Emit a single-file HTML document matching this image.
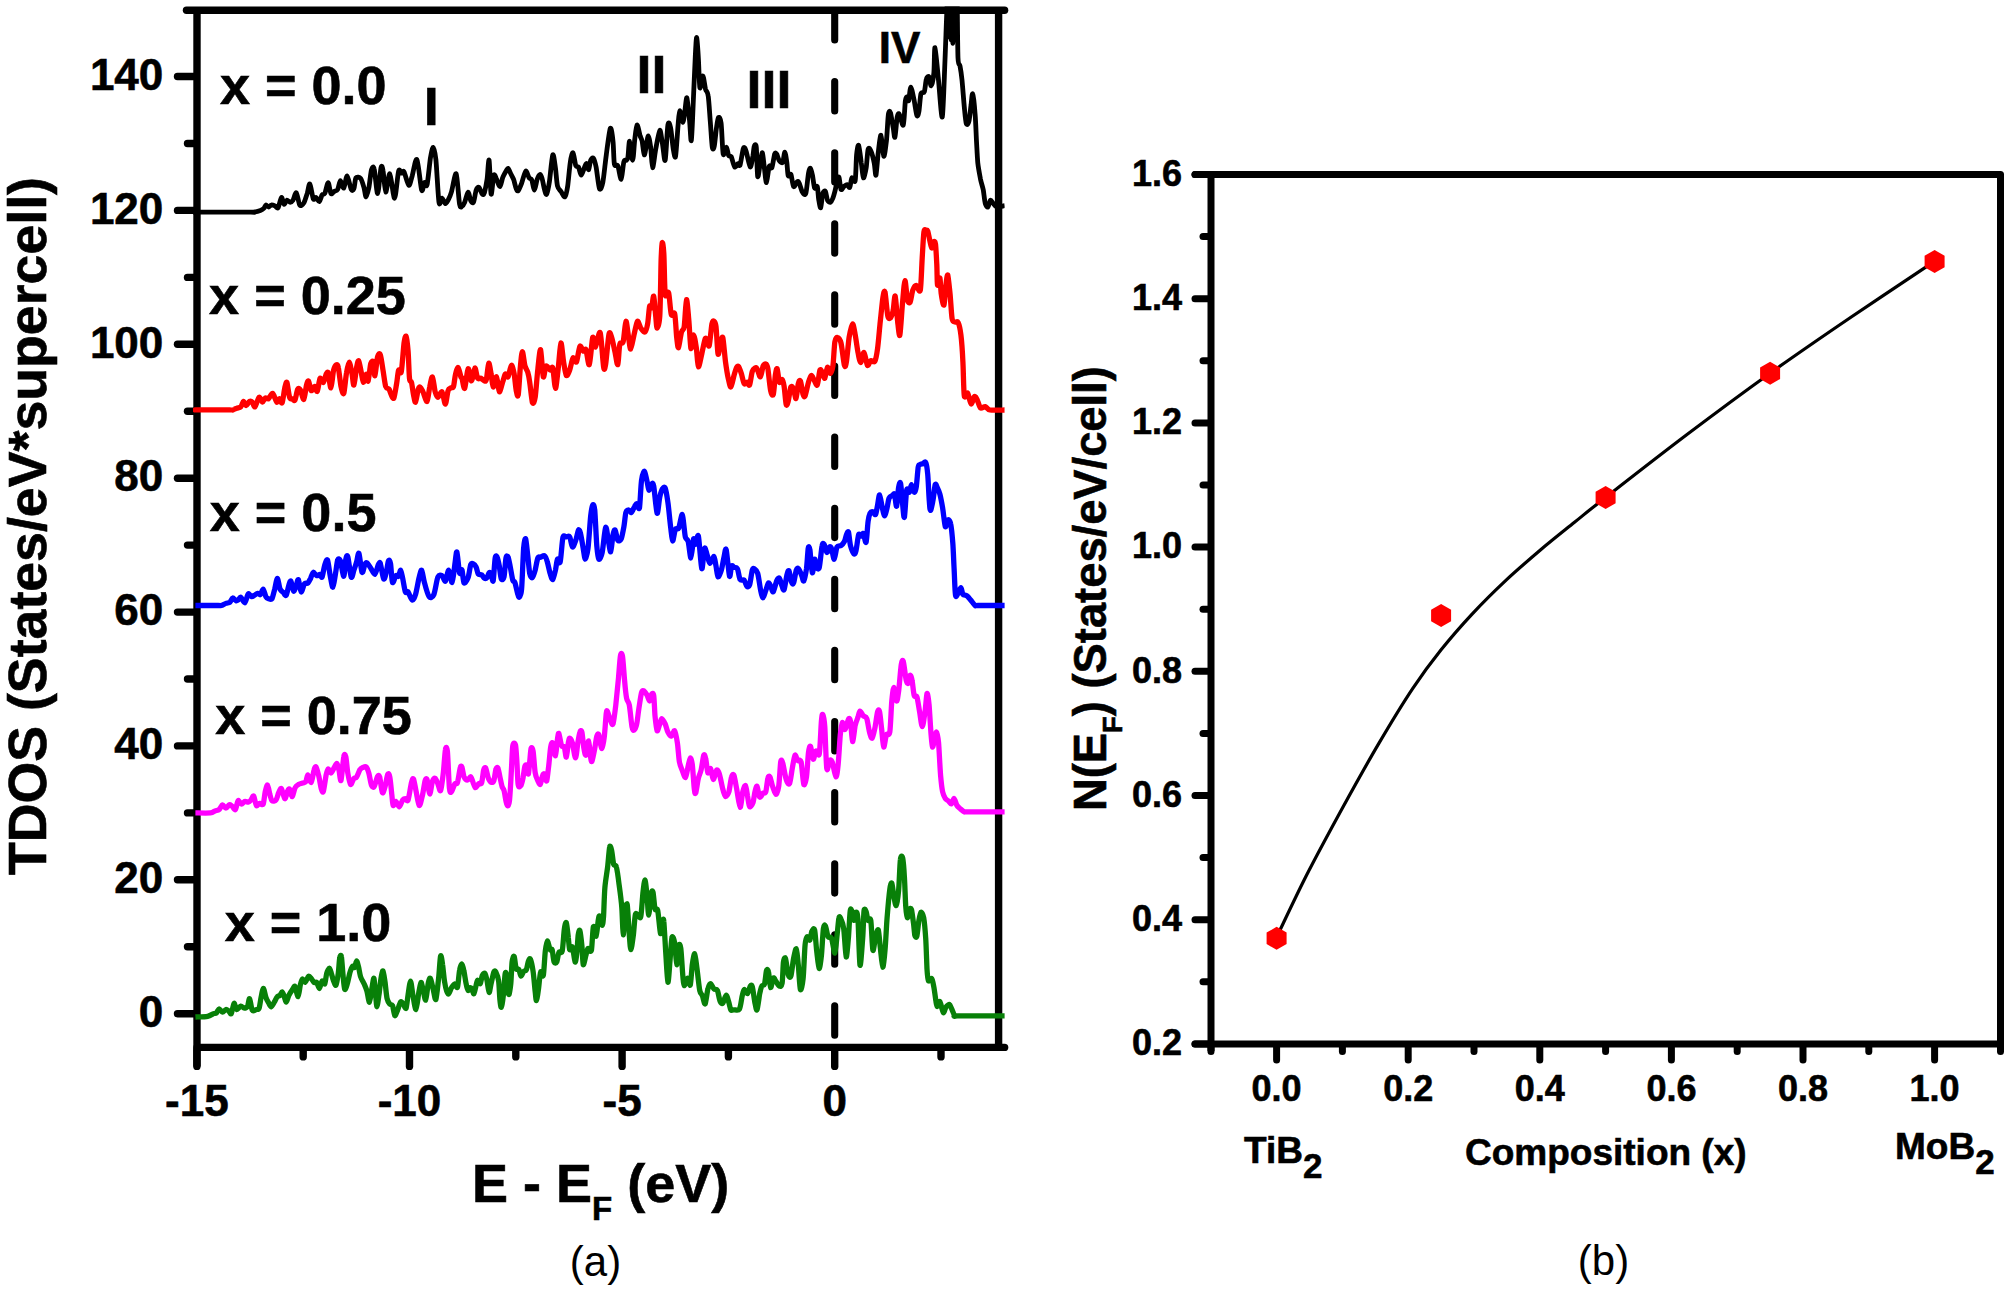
<!DOCTYPE html><html><head><meta charset="utf-8"><title>TDOS and N(EF) figure</title>
<style>html,body{margin:0;padding:0;background:#fff}body{width:2008px;height:1293px;overflow:hidden}svg{display:block}text{font-family:"Liberation Sans",Arial,sans-serif;fill:#000}.b{font-weight:bold;stroke:#000;stroke-width:0.6px}</style></head><body>
<svg width="2008" height="1293" viewBox="0 0 2008 1293">
<rect width="2008" height="1293" fill="#fff"/>
<g stroke="#000" stroke-width="7.4" stroke-linecap="round" fill="none">
<path d="M186.5 10.2 H1004.6"/>
<path d="M197.0 1047.4 H1004.6"/>
<path d="M197.0 10.2 V1066.4" stroke-linecap="butt"/>
<path d="M998.6 10.2 V1047.4" stroke-linecap="butt"/>
<path d="M177.5 1013.7 H194.0"/>
<path d="M187.5 946.8 H194.0"/>
<path d="M177.5 879.8 H194.0"/>
<path d="M187.5 812.9 H194.0"/>
<path d="M177.5 745.9 H194.0"/>
<path d="M187.5 679.0 H194.0"/>
<path d="M177.5 612.1 H194.0"/>
<path d="M187.5 545.1 H194.0"/>
<path d="M177.5 478.2 H194.0"/>
<path d="M187.5 411.2 H194.0"/>
<path d="M177.5 344.3 H194.0"/>
<path d="M187.5 277.4 H194.0"/>
<path d="M177.5 210.4 H194.0"/>
<path d="M187.5 143.5 H194.0"/>
<path d="M177.5 76.5 H194.0"/>
<path d="M196.9 1050.4 V1066.4"/>
<path d="M303.2 1050.4 V1056.9"/>
<path d="M409.5 1050.4 V1066.4"/>
<path d="M515.8 1050.4 V1056.9"/>
<path d="M622.1 1050.4 V1066.4"/>
<path d="M728.4 1050.4 V1056.9"/>
<path d="M834.7 1050.4 V1066.4"/>
<path d="M941.0 1050.4 V1056.9"/>
</g>
<path d="M834.7 10.5 V1047.4" stroke="#000" stroke-width="7.1" stroke-linecap="round" stroke-dasharray="29.4 41.7" fill="none"/>
<text class="b" x="163.3" y="1026.9" font-size="44" text-anchor="end">0</text>
<text class="b" x="163.3" y="893.0" font-size="44" text-anchor="end">20</text>
<text class="b" x="163.3" y="759.1" font-size="44" text-anchor="end">40</text>
<text class="b" x="163.3" y="625.3" font-size="44" text-anchor="end">60</text>
<text class="b" x="163.3" y="491.4" font-size="44" text-anchor="end">80</text>
<text class="b" x="163.3" y="357.5" font-size="44" text-anchor="end">100</text>
<text class="b" x="163.3" y="223.6" font-size="44" text-anchor="end">120</text>
<text class="b" x="163.3" y="89.7" font-size="44" text-anchor="end">140</text>
<text class="b" x="196.9" y="1115.5" font-size="44" text-anchor="middle">-15</text>
<text class="b" x="409.5" y="1115.5" font-size="44" text-anchor="middle">-10</text>
<text class="b" x="622.1" y="1115.5" font-size="44" text-anchor="middle">-5</text>
<text class="b" x="834.7" y="1115.5" font-size="44" text-anchor="middle">0</text>
<text class="b" transform="translate(45.5,875) rotate(-90) scale(0.985,1)" font-size="54.5">TDOS (States/eV*supercell)</text>
<text class="b" x="472" y="1202" font-size="54">E - E<tspan font-size="33" dy="18">F</tspan><tspan dy="-18"> (eV)</tspan></text>
<text x="595.5" y="1276" font-size="42" text-anchor="middle">(a)</text>
<text class="b" x="219.9" y="103.6" font-size="54">x = 0.0</text>
<text class="b" x="209.1" y="314.0" font-size="54">x = 0.25</text>
<text class="b" x="209.8" y="531.0" font-size="54">x = 0.5</text>
<text class="b" x="215.2" y="734.3" font-size="54">x = 0.75</text>
<text class="b" x="224.7" y="941.1" font-size="54">x = 1.0</text>
<text class="b" x="423.7" y="125.2" font-size="54">I</text>
<text class="b" x="636.6" y="92.6" font-size="54">II</text>
<text class="b" x="746.6" y="108.1" font-size="54">III</text>
<text class="b" x="878.8" y="62.6" font-size="44">IV</text>
<clipPath id="cl"><rect x="193.0" y="6.5" width="811.6" height="1037.2"/></clipPath>
<g fill="none" stroke-linejoin="round" stroke-linecap="butt" clip-path="url(#cl)">
<path d="M195.4 1017.0C197.2 1016.9 205.0 1016.8 207.6 1016.3C210.2 1015.8 212.4 1014.1 213.7 1013.6C215.0 1013.1 215.6 1013.6 216.4 1012.9C217.2 1012.2 218.3 1008.9 219.1 1008.9C220.0 1008.8 221.5 1012.1 222.5 1012.2C223.5 1012.3 225.0 1009.7 225.9 1009.5C226.8 1009.3 227.8 1010.3 228.6 1010.9C229.4 1011.5 230.5 1014.7 231.3 1013.6C232.1 1012.5 233.3 1004.0 234.0 1003.4C234.8 1002.9 235.8 1009.1 236.7 1009.5C237.7 1009.9 239.7 1006.3 240.8 1006.1C241.9 1005.9 243.2 1008.2 244.2 1008.2C245.2 1008.2 246.8 1007.5 247.6 1006.1C248.3 1004.8 248.9 998.1 249.6 998.7C250.3 999.3 251.3 1008.7 252.3 1010.2C253.3 1011.8 255.4 1009.8 256.4 1009.5C257.3 1009.2 258.4 1009.9 259.1 1008.2C259.8 1006.4 260.5 1000.1 261.1 997.3C261.7 994.5 262.7 988.5 263.4 988.5C264.1 988.5 265.1 995.3 265.9 997.3C266.6 999.4 267.8 1001.4 268.6 1002.8C269.3 1004.1 270.4 1007.0 271.3 1006.8C272.1 1006.6 273.8 1002.9 274.7 1001.4C275.5 999.9 276.6 997.5 277.4 996.7C278.1 995.8 279.4 996.0 280.1 995.3C280.8 994.6 281.5 991.8 282.1 991.9C282.7 992.0 283.6 994.5 284.1 996.0C284.7 997.4 285.5 1002.2 286.2 1002.1C286.9 1002.0 288.0 997.0 288.9 995.3C289.8 993.6 291.4 991.1 292.3 989.9C293.1 988.6 294.2 985.5 295.0 986.5C295.8 987.5 297.3 996.9 298.1 996.7C298.9 996.4 299.8 987.0 300.4 984.5C301.0 982.0 301.8 979.3 302.4 979.0C303.1 978.8 304.3 982.8 305.1 982.4C306.0 982.0 307.7 976.9 308.5 976.3C309.4 975.8 310.5 977.5 311.2 978.4C312.0 979.2 313.2 981.9 314.0 982.4C314.7 983.0 315.9 981.6 316.7 982.4C317.4 983.3 318.6 988.7 319.4 988.5C320.1 988.3 321.3 981.8 322.1 981.1C322.9 980.4 324.1 985.0 324.8 983.8C325.5 982.6 326.1 975.2 326.8 973.0C327.5 970.7 328.9 968.0 329.5 968.2C330.2 968.4 331.0 972.5 331.6 974.3C332.1 976.1 333.0 979.5 333.6 981.1C334.2 982.6 335.4 986.3 336.0 985.1C336.7 984.0 337.8 976.8 338.3 973.0C338.9 969.1 339.2 960.4 339.7 958.1C340.1 955.7 341.0 954.2 341.4 956.7C341.9 959.2 342.6 971.0 343.1 975.7C343.5 980.3 344.1 988.0 344.7 989.2C345.3 990.5 346.4 986.8 347.1 984.5C347.9 982.1 349.1 975.6 349.8 973.0C350.6 970.3 351.9 967.0 352.6 966.2C353.2 965.4 354.0 968.3 354.6 967.5C355.2 966.8 356.0 960.8 356.6 960.8C357.2 960.8 358.1 965.2 358.7 967.5C359.2 969.9 359.9 974.7 360.7 977.0C361.5 979.3 363.2 981.9 364.1 983.8C364.9 985.7 366.0 988.0 366.8 990.6C367.6 993.2 368.7 1002.7 369.5 1002.1C370.3 1001.5 371.6 989.9 372.2 986.5C372.8 983.1 373.5 977.2 374.0 978.4C374.4 979.5 375.2 990.6 375.6 994.6C376.0 998.7 376.5 1006.8 376.9 1006.8C377.4 1006.8 378.4 998.7 379.0 994.6C379.6 990.6 380.4 981.8 381.0 978.4C381.6 975.0 382.5 970.3 383.0 970.9C383.6 971.5 384.5 978.5 385.1 982.4C385.6 986.4 386.4 995.6 387.1 998.7C387.8 1001.8 389.0 1003.1 389.8 1004.1C390.6 1005.1 391.8 1003.8 392.5 1005.5C393.2 1007.1 394.1 1014.9 394.8 1015.6C395.5 1016.4 396.4 1012.8 397.3 1010.9C398.1 1008.9 399.8 1003.0 400.6 1002.1C401.5 1001.1 402.6 1003.2 403.4 1004.1C404.1 1005.0 405.4 1009.5 406.1 1008.2C406.7 1006.8 407.5 998.5 408.1 994.6C408.7 990.8 409.9 981.1 410.5 981.1C411.2 981.1 412.1 990.6 412.8 994.6C413.6 998.7 415.1 1009.9 416.0 1009.5C416.8 1009.1 418.2 995.8 418.9 991.9C419.7 988.0 420.4 982.8 421.0 982.4C421.5 982.0 422.3 986.7 423.0 989.2C423.7 991.7 424.9 1001.0 425.7 1000.0C426.5 999.1 427.7 985.5 428.4 982.4C429.1 979.3 429.8 977.4 430.4 978.4C431.1 979.3 432.4 986.2 433.2 989.2C433.9 992.2 435.1 1000.9 435.9 999.4C436.6 997.8 437.9 984.6 438.6 978.4C439.3 972.2 440.0 958.0 440.6 956.0C441.2 954.1 442.1 961.1 442.6 964.8C443.2 968.6 443.9 978.3 444.7 982.4C445.4 986.6 447.1 993.2 448.1 994.0C449.0 994.7 450.5 989.3 451.4 987.9C452.4 986.4 454.0 983.9 454.8 983.8C455.7 983.7 456.9 989.1 457.5 987.2C458.2 985.2 458.9 973.6 459.6 970.2C460.2 966.9 461.4 963.8 462.0 964.0C462.6 964.1 463.5 968.6 464.0 971.4C464.6 974.2 465.5 980.9 466.1 983.6C466.6 986.3 467.5 989.8 468.1 990.4C468.7 990.9 469.5 987.8 470.1 987.7C470.7 987.5 471.6 988.1 472.2 989.0C472.7 989.9 473.3 994.3 473.9 993.8C474.5 993.2 475.7 986.9 476.2 984.9C476.7 983.0 477.0 980.4 477.6 980.2C478.2 980.0 479.6 984.3 480.3 983.6C481.0 982.9 481.6 976.9 482.3 975.5C483.0 974.0 484.4 972.7 485.0 973.4C485.7 974.2 486.5 978.2 487.1 980.9C487.6 983.6 488.5 992.0 489.1 992.4C489.7 992.8 490.4 986.5 491.1 983.6C491.8 980.7 493.2 973.7 493.8 972.1C494.5 970.4 495.2 970.8 495.9 972.1C496.5 973.3 498.0 976.9 498.6 980.9C499.2 984.9 499.5 996.1 499.9 999.8C500.3 1003.6 500.8 1007.9 501.3 1007.3C501.8 1006.7 502.8 1000.5 503.3 995.8C503.9 991.0 504.6 977.0 505.1 974.1C505.6 971.2 506.2 972.6 506.7 975.5C507.2 978.4 508.2 993.3 508.7 994.4C509.3 995.6 510.3 988.2 510.8 983.6C511.3 978.9 511.6 965.8 512.1 961.9C512.6 958.0 513.6 955.5 514.2 956.5C514.7 957.5 515.5 966.9 516.2 968.7C516.9 970.5 518.2 968.3 518.9 969.4C519.6 970.4 520.2 975.9 520.9 976.1C521.6 976.4 522.9 972.3 523.6 971.4C524.4 970.5 525.7 971.5 526.3 970.0C527.0 968.6 527.8 962.8 528.4 961.2C529.0 959.7 529.7 957.8 530.4 959.2C531.1 960.7 532.4 966.8 533.1 971.4C533.8 976.0 534.7 987.6 535.2 991.7C535.6 995.9 536.0 1000.9 536.5 1000.5C537.0 1000.1 538.0 993.1 538.5 989.0C539.1 984.9 539.9 974.0 540.6 972.1C541.2 970.1 542.6 978.5 543.3 975.5C544.0 972.5 544.7 956.0 545.3 951.1C545.9 946.1 546.7 941.1 547.3 940.9C548.0 940.7 549.4 948.5 550.1 949.7C550.7 951.0 551.5 948.0 552.1 949.7C552.7 951.5 553.4 960.2 554.1 961.9C554.8 963.7 556.1 963.3 556.8 961.9C557.5 960.6 558.1 954.0 558.9 952.4C559.6 950.9 561.5 954.4 562.2 951.1C563.0 947.8 563.7 933.5 564.3 929.4C564.9 925.3 565.7 921.5 566.3 922.6C566.9 923.8 567.9 933.7 568.3 937.5C568.8 941.4 569.1 948.4 569.7 949.7C570.3 951.1 571.6 945.3 572.4 947.0C573.2 948.8 574.5 961.1 575.1 961.9C575.8 962.7 576.4 956.3 576.9 952.4C577.3 948.6 577.8 937.9 578.2 934.8C578.7 931.7 579.3 929.2 579.9 930.8C580.4 932.3 581.4 940.8 581.9 945.7C582.4 950.5 582.7 963.3 583.2 964.6C583.8 966.0 585.3 957.5 586.0 955.1C586.6 952.8 587.2 949.0 588.0 948.4C588.8 947.7 590.6 953.5 591.4 950.4C592.1 947.3 592.7 928.7 593.4 926.7C594.1 924.7 595.4 937.0 596.1 936.2C596.8 935.4 597.7 924.2 598.1 921.3C598.6 918.4 598.9 915.3 599.5 915.9C600.1 916.4 601.6 925.3 602.2 925.3C602.8 925.3 603.2 921.3 603.6 915.9C603.9 910.4 604.3 894.4 604.9 887.4C605.5 880.4 606.9 872.9 607.6 867.1C608.3 861.3 609.1 849.1 609.7 846.8C610.2 844.5 611.1 848.3 611.7 850.8C612.3 853.4 613.0 862.1 613.7 864.4C614.4 866.7 615.7 864.2 616.4 867.1C617.2 870.0 618.4 878.9 619.1 884.7C619.9 890.5 621.3 900.6 621.8 907.7C622.4 914.9 622.7 934.4 623.2 934.8C623.7 935.2 624.7 914.7 625.2 910.4C625.8 906.2 626.7 901.5 627.3 905.0C627.8 908.5 628.8 928.4 629.3 934.8C629.8 941.2 630.3 949.7 630.9 949.7C631.5 949.7 632.7 939.9 633.4 934.8C634.0 929.8 634.7 917.2 635.4 914.5C636.1 911.8 637.3 915.6 638.1 915.9C638.9 916.2 640.1 919.6 640.8 916.5C641.5 913.4 642.3 899.4 642.8 894.2C643.4 889.0 644.3 880.0 644.9 880.0C645.5 880.0 646.4 889.2 646.9 894.2C647.5 899.2 648.1 915.2 648.7 915.2C649.3 915.2 650.4 897.5 651.0 894.2C651.6 890.9 652.4 890.0 653.0 892.2C653.6 894.3 654.4 906.5 655.0 909.1C655.7 911.7 657.0 907.0 657.7 910.4C658.5 913.9 659.8 931.7 660.5 933.5C661.1 935.2 662.0 924.4 662.5 922.6C663.0 920.9 663.4 916.6 663.8 921.3C664.3 925.9 665.3 946.4 665.9 955.1C666.5 963.9 667.3 981.3 667.9 982.2C668.5 983.2 669.4 968.3 669.9 961.9C670.5 955.5 671.3 940.2 672.0 937.5C672.6 934.8 674.0 939.1 674.7 943.0C675.4 946.8 676.1 964.2 676.7 964.6C677.3 965.0 678.2 948.0 678.7 945.7C679.3 943.3 680.2 944.1 680.8 948.4C681.4 952.6 682.3 970.1 682.8 975.5C683.3 980.8 683.5 985.2 684.2 985.6C684.8 986.0 686.7 978.3 687.5 978.2C688.4 978.1 689.6 986.9 690.3 984.9C690.9 983.0 691.7 969.1 692.3 964.6C692.9 960.2 694.1 953.2 694.7 953.8C695.4 954.4 696.3 963.5 697.0 968.7C697.7 973.9 699.0 986.5 699.7 990.4C700.5 994.2 701.7 993.8 702.4 995.8C703.2 997.7 704.4 1004.9 705.2 1003.9C705.9 1002.9 707.1 991.9 707.9 989.0C708.6 986.1 709.7 983.6 710.6 983.6C711.4 983.6 713.0 988.0 714.0 989.0C714.9 990.0 716.5 988.6 717.4 990.4C718.2 992.1 719.3 999.4 720.1 1001.2C720.8 1003.0 721.9 1004.1 722.8 1003.2C723.6 1002.4 725.3 995.2 726.2 995.1C727.0 995.0 728.2 1000.4 728.9 1002.6C729.5 1004.7 730.2 1009.0 730.9 1010.0C731.6 1011.0 732.8 1010.0 734.0 1009.8C735.2 1009.7 738.3 1011.1 739.4 1009.2C740.6 1007.2 741.5 999.1 742.1 996.3C742.8 993.5 743.4 989.9 744.2 989.5C744.9 989.1 746.7 994.1 747.5 993.6C748.4 993.1 749.6 987.1 750.3 986.1C750.9 985.2 751.6 984.4 752.3 986.8C753.0 989.2 754.3 999.8 755.0 1003.1C755.7 1006.4 756.4 1011.2 757.0 1009.8C757.7 1008.5 759.1 997.0 759.7 993.6C760.4 990.2 761.1 987.5 761.8 986.1C762.4 984.8 763.8 986.3 764.5 984.1C765.2 981.9 765.9 972.3 766.5 970.6C767.1 968.8 768.0 969.5 768.5 971.9C769.1 974.3 769.9 986.6 770.6 987.5C771.3 988.4 772.5 978.9 773.3 978.0C774.1 977.1 775.1 980.2 776.0 981.4C776.9 982.6 778.5 985.9 779.4 986.1C780.3 986.4 781.5 986.8 782.1 983.4C782.7 980.0 783.0 966.0 783.4 962.4C783.9 958.9 784.8 956.6 785.5 958.4C786.2 960.1 787.4 972.1 788.2 974.6C789.0 977.1 790.1 978.3 790.9 976.0C791.7 973.7 792.8 962.2 793.6 958.4C794.4 954.5 795.6 947.9 796.3 948.9C797.0 949.9 797.8 959.3 798.3 965.1C798.9 971.0 799.7 987.6 800.4 989.5C801.1 991.5 802.4 985.1 803.1 978.7C803.8 972.3 804.5 950.8 805.1 944.8C805.7 938.8 806.5 937.4 807.2 936.7C807.8 936.0 809.2 940.9 809.9 940.1C810.5 939.3 811.2 932.7 811.9 931.3C812.6 929.8 813.9 927.2 814.6 929.9C815.3 932.6 816.0 944.7 816.6 950.2C817.3 955.8 818.4 967.8 819.1 968.5C819.7 969.3 820.8 961.4 821.4 955.7C822.0 950.0 822.8 932.8 823.4 928.6C824.0 924.3 824.8 924.7 825.4 925.9C826.1 927.0 827.3 935.0 828.1 936.7C829.0 938.4 830.6 935.7 831.5 938.1C832.5 940.4 834.1 953.5 834.9 953.0C835.7 952.4 836.6 939.0 837.2 934.0C837.8 929.0 838.4 919.9 839.0 917.7C839.5 915.6 840.3 917.5 841.0 919.1C841.7 920.6 843.0 923.2 843.7 928.6C844.5 934.0 845.5 955.9 846.2 957.0C846.8 958.2 847.9 943.3 848.5 936.7C849.0 930.1 849.7 914.6 850.2 911.0C850.7 907.3 851.3 909.6 851.9 911.0C852.4 912.3 853.3 920.2 853.9 920.4C854.5 920.6 855.3 912.5 855.9 912.3C856.5 912.1 857.4 911.5 858.0 919.1C858.5 926.6 859.3 962.4 860.0 965.1C860.7 967.9 862.1 945.8 862.7 938.1C863.3 930.3 863.6 914.7 864.0 911.0C864.5 907.2 865.5 910.3 866.1 911.6C866.7 913.0 867.4 919.2 868.1 920.4C868.8 921.7 870.1 916.2 870.8 920.4C871.5 924.7 872.2 947.9 872.9 950.2C873.5 952.6 874.8 939.6 875.6 936.7C876.3 933.8 877.6 928.4 878.3 929.9C878.9 931.5 879.7 942.2 880.3 947.5C880.9 952.9 882.1 966.8 882.7 967.2C883.4 967.6 884.4 957.3 885.0 950.2C885.7 943.2 886.4 926.4 887.1 917.7C887.8 909.0 889.1 894.2 889.8 889.3C890.5 884.3 891.2 882.2 891.8 883.2C892.4 884.2 893.2 892.9 893.8 896.1C894.5 899.3 895.5 906.3 896.2 905.5C896.8 904.8 898.0 897.2 898.6 890.6C899.2 884.1 899.8 864.1 900.4 859.5C900.9 854.8 902.1 855.6 902.7 858.1C903.2 860.6 904.0 870.1 904.4 877.1C904.9 884.1 905.3 901.1 905.8 906.9C906.2 912.7 906.9 917.3 907.4 917.7C907.9 918.1 908.8 910.8 909.4 909.6C910.0 908.4 910.9 907.7 911.5 909.6C912.0 911.5 913.0 919.5 913.5 923.2C914.0 926.8 914.4 933.5 914.8 935.3C915.3 937.2 916.3 938.1 916.9 936.0C917.5 933.9 918.3 923.8 918.9 920.4C919.5 917.1 920.3 912.7 920.9 912.3C921.6 911.9 923.0 914.1 923.7 917.7C924.3 921.4 925.2 930.7 925.7 938.1C926.2 945.4 926.7 963.1 927.0 969.2C927.4 975.3 927.7 979.4 928.4 980.7C929.1 982.1 931.0 977.8 931.8 978.7C932.6 979.6 933.2 983.7 933.8 986.8C934.4 989.9 935.4 997.6 935.8 1000.4C936.3 1003.2 936.6 1006.3 937.2 1006.5C937.8 1006.7 939.0 1000.8 939.9 1001.7C940.8 1002.6 942.4 1011.8 943.3 1012.6C944.2 1013.3 945.1 1008.3 946.0 1007.1C946.9 1006.0 948.5 1004.0 949.4 1004.4C950.3 1004.8 951.3 1008.2 952.1 1009.8C952.9 1011.5 954.0 1015.1 954.8 1015.9C955.6 1016.8 951.1 1015.9 957.8 1015.9C964.5 1015.9 995.2 1015.9 1001.9 1015.9C1008.7 1015.9 1004.5 1015.9 1004.9 1015.9" stroke="#088008" stroke-width="5.3"/>
<path d="M195.4 812.9C197.5 812.9 207.5 813.2 210.3 812.9C213.1 812.6 213.8 811.4 215.1 810.9C216.3 810.4 218.1 810.4 219.1 809.5C220.2 808.7 221.5 805.0 222.5 804.8C223.5 804.6 224.9 808.2 225.9 808.2C226.9 808.2 228.4 805.1 229.3 804.8C230.2 804.5 231.1 805.5 232.0 806.1C232.9 806.8 234.5 810.3 235.4 809.5C236.3 808.8 237.2 801.5 238.1 800.7C239.0 799.9 240.5 804.0 241.5 804.1C242.4 804.2 243.9 801.7 244.9 801.4C245.8 801.1 247.4 802.3 248.2 802.1C249.1 801.9 250.2 800.9 251.0 800.0C251.7 799.2 252.9 795.2 253.7 796.0C254.4 796.8 255.5 804.4 256.4 805.5C257.2 806.5 258.8 803.6 259.8 803.4C260.7 803.2 262.4 805.8 263.2 804.1C263.9 802.5 264.6 794.6 265.2 791.9C265.8 789.2 266.8 784.8 267.5 785.1C268.2 785.5 269.3 792.4 269.9 794.6C270.6 796.9 271.1 799.9 272.0 800.7C272.8 801.5 275.1 801.2 276.0 800.0C277.0 798.9 278.0 794.2 278.7 792.6C279.5 791.0 280.6 787.7 281.4 788.5C282.3 789.4 284.0 798.3 284.8 798.7C285.7 799.1 286.9 792.6 287.5 791.2C288.2 789.9 288.9 788.4 289.6 789.2C290.2 790.0 291.5 796.9 292.3 796.7C293.0 796.5 294.1 789.6 295.0 787.9C295.9 786.1 297.3 785.1 298.4 784.5C299.4 783.8 301.4 783.5 302.4 783.1C303.5 782.7 305.0 782.9 305.8 781.8C306.6 780.6 307.1 774.9 307.9 775.0C308.6 775.1 310.4 783.1 311.2 782.4C312.1 781.8 313.3 772.5 314.0 770.2C314.6 768.0 315.3 766.1 316.0 766.9C316.7 767.6 317.9 772.5 318.7 775.7C319.5 778.9 320.7 787.0 321.4 789.2C322.1 791.4 322.8 793.3 323.4 791.2C324.1 789.2 325.5 778.2 326.1 775.0C326.8 771.8 327.5 769.2 328.2 768.9C328.9 768.6 330.0 773.1 330.9 773.0C331.8 772.8 333.4 768.9 334.3 767.5C335.1 766.2 336.3 763.1 337.0 763.5C337.7 763.9 338.4 767.8 339.0 770.2C339.6 772.7 340.4 782.3 341.0 780.4C341.7 778.5 343.1 760.1 343.8 756.7C344.4 753.3 345.2 754.4 345.8 756.7C346.4 759.0 347.1 769.0 347.8 773.0C348.5 776.9 349.7 783.7 350.5 784.5C351.4 785.2 353.0 779.4 353.9 778.4C354.8 777.3 355.8 778.3 356.6 777.0C357.5 775.8 359.1 770.9 360.0 769.6C360.9 768.2 361.8 767.9 362.7 767.5C363.6 767.1 365.2 766.1 366.1 766.9C367.0 767.6 368.0 770.3 368.8 773.0C369.6 775.6 370.7 783.2 371.5 785.1C372.3 787.1 373.4 787.8 374.2 786.5C375.1 785.2 376.8 777.7 377.6 776.3C378.4 775.0 379.0 774.7 379.7 777.0C380.3 779.3 381.6 791.2 382.4 792.6C383.1 794.0 384.3 789.1 385.1 786.5C385.8 783.9 387.1 775.7 387.8 774.3C388.5 773.0 389.2 774.1 389.8 777.0C390.4 779.9 391.4 790.6 391.8 794.6C392.3 798.7 392.6 804.5 393.2 805.5C393.8 806.4 395.0 801.2 395.9 801.4C396.8 801.6 398.3 807.0 399.3 806.8C400.3 806.6 401.8 801.2 402.7 800.0C403.6 798.9 404.6 798.7 405.4 798.7C406.2 798.7 407.2 802.4 408.1 800.0C409.0 797.7 410.7 785.4 411.5 782.4C412.3 779.4 412.8 777.7 413.5 779.0C414.2 780.4 415.4 788.1 416.2 791.9C417.0 795.7 418.3 804.9 419.2 805.5C420.1 806.0 421.5 799.5 422.3 796.0C423.2 792.5 424.4 783.4 425.0 781.1C425.7 778.8 426.4 777.9 427.1 779.7C427.7 781.6 429.0 793.8 429.8 794.0C430.5 794.1 431.7 783.3 432.5 781.1C433.3 778.9 434.4 778.0 435.2 778.4C436.0 778.8 437.1 782.0 437.9 783.8C438.7 785.5 439.8 792.1 440.6 790.6C441.4 789.0 442.6 778.8 443.3 773.0C444.0 767.1 444.8 753.0 445.4 749.9C445.9 746.8 446.8 745.9 447.4 751.3C448.0 756.7 448.8 782.0 449.4 787.9C450.0 793.7 450.7 792.5 451.4 791.9C452.2 791.3 454.0 785.1 454.8 783.8C455.7 782.4 456.8 784.8 457.5 782.4C458.3 780.1 459.6 769.7 460.3 767.5C460.9 765.4 461.5 766.0 462.0 767.3C462.5 768.7 463.3 775.0 464.0 776.8C464.8 778.7 466.5 780.2 467.4 780.2C468.4 780.2 469.9 776.3 470.8 776.8C471.7 777.3 472.8 782.0 473.5 783.6C474.2 785.1 474.8 787.7 475.5 787.7C476.3 787.7 478.1 784.3 478.9 783.6C479.8 782.9 481.0 784.9 481.6 782.9C482.3 781.0 483.1 772.2 483.7 770.0C484.3 767.9 485.0 766.9 485.7 768.0C486.4 769.2 487.6 776.1 488.4 778.2C489.2 780.2 490.4 781.9 491.1 782.2C491.9 782.6 493.2 782.7 493.8 780.9C494.5 779.0 495.3 771.2 495.9 769.4C496.4 767.5 497.3 766.9 497.9 768.0C498.5 769.1 499.3 774.2 499.9 776.8C500.5 779.4 501.4 784.4 502.0 786.3C502.5 788.2 503.4 788.2 504.0 790.4C504.6 792.5 505.5 799.0 506.0 801.2C506.5 803.4 506.9 805.9 507.4 805.9C507.9 805.9 508.8 806.3 509.4 801.2C510.0 796.1 511.0 778.0 511.4 770.0C511.9 762.1 512.2 749.2 512.8 745.7C513.4 742.1 514.9 742.7 515.5 745.0C516.1 747.3 516.5 756.2 516.9 761.9C517.3 767.6 517.6 781.6 518.2 784.9C518.8 788.3 520.2 786.6 520.9 785.6C521.6 784.7 522.4 781.0 523.0 778.2C523.5 775.4 524.4 767.7 525.0 766.0C525.6 764.2 526.5 764.8 527.0 766.0C527.5 767.1 528.0 774.7 528.4 774.1C528.8 773.5 529.3 765.6 529.7 761.9C530.1 758.2 530.6 749.9 531.1 748.4C531.6 746.8 532.5 747.6 533.1 751.1C533.7 754.6 534.5 768.5 535.2 772.8C535.8 777.0 537.1 779.2 537.9 780.9C538.6 782.5 539.6 785.0 540.3 784.3C541.0 783.5 542.0 776.9 542.6 775.5C543.2 774.0 544.1 773.3 544.6 774.1C545.2 774.9 546.1 782.0 546.7 780.9C547.2 779.7 548.1 770.8 548.7 766.0C549.3 761.1 550.1 750.3 550.7 747.0C551.3 743.7 552.1 741.7 552.8 743.0C553.4 744.2 554.8 756.4 555.5 755.8C556.1 755.2 557.0 742.1 557.5 738.9C558.0 735.7 558.3 732.5 558.9 733.5C559.4 734.4 560.8 743.7 561.6 745.7C562.3 747.6 563.6 745.4 564.3 747.0C565.0 748.7 565.7 757.8 566.3 757.2C566.9 756.6 567.9 745.7 568.3 743.0C568.8 740.2 569.1 738.2 569.7 738.2C570.3 738.2 571.6 740.1 572.4 743.0C573.2 745.8 574.7 757.9 575.5 757.9C576.3 757.9 577.2 746.6 577.8 743.0C578.4 739.3 579.3 733.7 579.9 732.1C580.4 730.6 581.3 729.8 581.9 732.1C582.5 734.4 583.3 745.1 583.9 748.4C584.5 751.7 585.3 756.2 586.0 755.1C586.6 754.1 588.0 740.5 588.7 740.9C589.3 741.3 590.2 755.0 590.7 757.9C591.2 760.8 591.5 762.6 592.0 761.2C592.6 759.9 594.1 752.0 594.8 748.4C595.4 744.8 596.2 738.1 596.8 736.2C597.4 734.2 598.1 733.1 598.8 734.8C599.5 736.6 600.8 748.0 601.5 748.4C602.3 748.8 603.6 742.6 604.2 737.5C604.9 732.5 605.8 716.8 606.3 713.2C606.8 709.5 607.0 710.8 607.6 711.8C608.2 712.8 609.6 718.2 610.3 719.9C611.1 721.7 612.3 726.1 613.0 724.0C613.8 721.9 615.0 711.6 615.8 705.0C616.5 698.4 617.8 685.0 618.5 677.9C619.1 670.9 619.9 658.7 620.5 655.6C621.1 652.5 621.9 652.7 622.5 656.3C623.1 659.8 624.0 674.6 624.6 680.6C625.1 686.6 625.9 694.8 626.6 698.2C627.3 701.7 628.5 701.0 629.3 705.0C630.1 709.1 631.3 723.1 632.0 726.7C632.7 730.3 633.4 730.5 634.0 730.1C634.7 729.7 636.1 727.0 636.7 724.0C637.4 721.0 638.1 713.5 638.8 709.1C639.5 704.6 640.8 695.4 641.5 692.8C642.2 690.2 642.7 690.5 643.5 690.8C644.3 691.1 646.0 693.4 646.9 694.9C647.8 696.3 648.9 701.1 649.6 701.0C650.3 700.9 651.1 695.0 651.7 694.2C652.2 693.4 653.2 692.4 653.7 695.5C654.2 698.6 654.6 710.8 655.0 715.9C655.5 720.9 656.4 729.6 657.1 730.8C657.7 731.9 659.1 725.7 659.8 724.0C660.5 722.2 661.0 718.6 661.8 718.6C662.6 718.6 664.3 722.1 665.2 724.0C666.1 725.9 667.0 730.4 667.9 732.1C668.8 733.9 670.3 736.4 671.3 736.2C672.3 736.0 673.8 729.8 674.7 730.8C675.6 731.7 676.7 738.5 677.4 743.0C678.1 747.4 678.7 758.0 679.4 761.9C680.1 765.8 681.3 767.8 682.1 770.0C683.0 772.3 684.6 778.1 685.5 777.5C686.4 776.9 687.5 768.8 688.2 766.0C688.9 763.2 689.7 758.0 690.3 757.9C690.8 757.7 691.7 760.2 692.3 764.6C692.9 769.1 693.8 784.9 694.3 789.0C694.8 793.1 695.1 794.6 695.7 793.1C696.3 791.5 697.6 781.5 698.4 778.2C699.2 774.9 700.3 773.3 701.1 770.0C701.9 766.8 703.1 756.7 703.8 755.1C704.5 753.6 705.3 756.7 705.8 759.2C706.4 761.7 707.2 771.4 707.9 772.8C708.5 774.1 709.8 767.7 710.6 768.7C711.4 769.7 712.4 779.3 713.3 779.5C714.2 779.7 715.8 770.8 716.7 770.0C717.5 769.3 718.5 771.4 719.4 774.1C720.3 776.8 721.9 785.8 722.8 789.0C723.6 792.2 724.6 796.1 725.5 796.5C726.3 796.8 728.0 794.5 728.9 791.7C729.7 788.9 730.8 779.1 731.6 776.8C732.3 774.5 733.3 773.7 734.0 775.5C734.7 777.2 735.8 784.5 736.7 789.0C737.6 793.6 739.2 806.9 740.1 807.3C741.0 807.7 742.0 794.8 742.8 791.7C743.6 788.6 744.8 785.0 745.5 785.6C746.2 786.2 747.0 792.8 747.5 795.8C748.1 798.8 748.8 805.7 749.6 806.6C750.4 807.6 752.2 804.7 753.0 802.6C753.7 800.4 754.4 794.0 755.0 791.7C755.6 789.4 756.4 785.5 757.0 786.3C757.7 787.1 758.9 796.2 759.7 797.1C760.6 798.1 762.3 793.8 763.1 793.1C764.0 792.3 765.2 793.8 765.8 791.7C766.5 789.6 767.3 780.3 767.9 778.2C768.4 776.0 769.2 775.7 769.9 776.8C770.6 778.0 771.7 783.8 772.6 786.3C773.5 788.8 775.1 794.4 776.0 794.4C776.9 794.4 778.0 790.9 778.7 786.3C779.4 781.7 780.2 765.2 780.7 761.9C781.3 758.6 782.0 760.8 782.8 763.3C783.5 765.8 785.2 776.6 786.2 779.5C787.1 782.4 788.7 785.1 789.5 783.6C790.4 782.0 791.5 772.8 792.2 768.7C793.0 764.6 794.2 756.3 795.0 755.1C795.7 754.0 796.8 759.6 797.7 760.6C798.5 761.5 800.2 758.5 801.1 761.9C801.9 765.3 803.0 782.1 803.8 784.3C804.5 786.4 805.8 781.4 806.5 776.8C807.2 772.3 807.9 756.8 808.5 752.4C809.1 748.1 809.9 745.4 810.5 746.3C811.2 747.3 812.5 758.5 813.2 759.2C814.0 759.9 815.1 751.9 816.0 751.1C816.8 750.3 818.6 758.0 819.3 753.8C820.1 749.5 820.9 726.9 821.4 721.3C821.9 715.7 822.2 713.7 822.7 714.5C823.2 715.3 824.2 719.0 824.8 726.7C825.3 734.4 826.1 763.9 826.8 768.7C827.5 773.5 828.7 761.5 829.5 760.6C830.3 759.6 831.3 759.6 832.2 761.9C833.1 764.2 835.0 776.2 835.9 776.8C836.7 777.4 837.4 772.0 838.0 766.0C838.7 760.0 839.7 741.0 840.3 734.8C841.0 728.6 841.7 723.4 842.4 722.6C843.0 721.9 844.2 729.9 845.1 729.4C846.0 728.9 847.7 720.4 848.5 719.2C849.2 718.1 849.9 718.1 850.5 721.3C851.1 724.5 851.9 741.0 852.5 741.6C853.2 742.2 854.5 728.8 855.2 725.3C856.0 721.9 857.3 719.2 858.0 717.2C858.6 715.2 859.2 711.3 860.0 711.1C860.8 710.9 862.4 714.8 863.4 715.9C864.3 716.9 865.9 716.2 866.8 718.6C867.6 720.9 868.7 729.3 869.5 732.1C870.2 734.9 871.4 738.8 872.2 738.2C872.9 737.6 874.1 731.8 874.9 728.1C875.7 724.3 876.9 714.1 877.6 711.8C878.3 709.5 879.0 709.3 879.6 711.8C880.2 714.3 881.1 724.4 881.7 729.4C882.2 734.4 883.0 746.2 883.7 747.0C884.4 747.8 885.5 737.0 886.4 734.8C887.3 732.7 889.0 737.0 889.8 732.1C890.6 727.3 891.2 707.3 891.8 701.0C892.4 694.6 893.2 687.4 893.8 687.4C894.5 687.4 895.9 700.4 896.6 701.0C897.2 701.5 897.9 696.7 898.6 691.5C899.3 686.3 900.6 668.6 901.3 664.4C902.0 660.1 902.7 659.5 903.3 661.7C904.0 663.8 905.4 676.2 906.0 679.3C906.7 682.4 907.5 683.9 908.1 683.3C908.7 682.8 909.5 675.6 910.1 675.2C910.7 674.8 911.6 677.7 912.1 680.6C912.7 683.5 913.5 693.2 914.2 695.5C914.8 697.9 916.1 694.6 916.9 696.9C917.7 699.2 918.8 707.5 919.6 711.8C920.4 716.1 921.5 726.7 922.3 726.7C923.1 726.7 924.3 716.5 925.0 711.8C925.7 707.1 926.5 694.5 927.0 693.5C927.6 692.5 928.5 699.1 929.1 705.0C929.6 710.9 930.6 728.8 931.1 734.8C931.6 740.8 932.0 746.2 932.5 747.0C932.9 747.8 933.9 742.4 934.5 740.2C935.1 738.1 935.9 731.7 936.5 732.1C937.1 732.5 938.0 736.8 938.6 743.0C939.1 749.1 940.0 768.5 940.6 775.5C941.2 782.4 941.9 788.4 942.6 791.7C943.3 795.0 944.5 797.1 945.3 798.5C946.2 799.8 947.8 800.4 948.7 801.2C949.6 802.0 950.6 804.3 951.4 803.9C952.2 803.5 953.4 798.3 954.1 798.5C954.9 798.7 956.0 803.8 956.8 805.3C957.7 806.7 959.2 807.7 960.2 808.7C961.3 809.6 963.3 811.3 964.3 811.8C965.3 812.2 961.9 811.8 967.3 811.8C972.7 811.8 996.6 811.8 1001.9 811.8C1007.3 811.8 1004.5 811.8 1004.9 811.8" stroke="#ff00ff" stroke-width="5.3"/>
<path d="M195.4 605.5C195.8 605.5 195.2 605.5 198.4 605.5C201.7 605.5 214.9 605.5 218.2 605.5C221.4 605.5 220.1 605.8 221.2 605.5C222.3 605.2 224.6 603.9 225.9 603.4C227.2 602.9 229.0 602.9 230.0 602.1C230.9 601.3 231.8 598.2 232.7 598.0C233.5 597.8 235.3 600.4 236.1 600.7C236.8 601.0 237.4 600.5 238.1 600.0C238.8 599.6 239.8 596.9 240.8 597.3C241.8 597.7 243.8 603.2 244.9 602.8C245.9 602.3 247.3 594.8 248.2 594.0C249.2 593.1 250.8 596.5 251.6 596.7C252.5 596.9 253.5 595.8 254.3 595.3C255.2 594.8 256.9 593.4 257.7 593.3C258.6 593.2 259.7 595.2 260.4 594.6C261.2 594.0 262.4 588.9 263.2 589.2C263.9 589.5 265.1 595.3 265.9 596.7C266.6 598.0 267.7 598.4 268.6 598.7C269.4 599.0 271.1 600.0 272.0 598.7C272.8 597.3 273.9 592.1 274.7 589.2C275.4 586.3 276.6 578.4 277.4 578.4C278.1 578.4 279.2 587.2 280.1 589.2C281.0 591.2 282.6 591.7 283.5 592.6C284.3 593.5 285.4 596.4 286.2 595.3C287.0 594.2 288.2 587.2 288.9 585.1C289.6 583.1 290.2 580.2 290.9 581.1C291.6 582.0 292.9 590.7 293.6 591.2C294.4 591.8 295.7 586.8 296.3 585.1C297.0 583.5 297.7 578.8 298.4 579.7C299.0 580.7 300.2 591.3 301.1 591.9C302.0 592.5 303.5 585.0 304.5 583.8C305.4 582.5 307.0 583.9 307.9 583.1C308.7 582.3 309.8 579.9 310.6 578.4C311.3 576.8 312.4 572.7 313.3 572.3C314.1 571.9 315.7 575.4 316.7 575.7C317.6 576.0 319.3 574.1 320.0 574.3C320.8 574.5 321.4 578.4 322.1 577.0C322.8 575.7 324.0 567.2 324.8 564.8C325.6 562.4 326.7 558.5 327.5 560.1C328.3 561.6 329.4 571.8 330.2 575.7C331.0 579.5 332.1 587.6 332.9 587.2C333.7 586.8 334.9 576.8 335.6 573.0C336.3 569.1 337.0 561.8 337.7 560.1C338.3 558.3 339.5 558.4 340.4 560.8C341.2 563.1 343.0 576.5 343.8 576.3C344.5 576.1 345.2 562.2 345.8 559.4C346.4 556.6 347.0 554.2 347.8 556.7C348.6 559.2 350.3 575.1 351.2 577.0C352.1 579.0 353.1 572.4 353.9 570.2C354.7 568.1 355.9 564.5 356.6 562.1C357.3 559.7 358.2 551.9 358.9 553.3C359.7 554.8 361.2 570.6 362.0 572.3C362.9 573.9 364.1 566.2 364.7 564.8C365.4 563.5 365.9 562.3 366.8 562.8C367.7 563.3 369.7 566.6 370.8 568.2C372.0 569.9 373.8 574.8 374.9 574.3C376.0 573.8 377.5 566.4 378.3 564.8C379.1 563.3 379.6 561.4 380.3 563.5C381.1 565.5 382.8 577.9 383.7 579.0C384.6 580.2 385.7 574.2 386.4 571.6C387.1 569.0 387.9 561.9 388.5 560.8C389.0 559.6 389.9 560.4 390.5 563.5C391.1 566.6 391.7 580.7 392.5 582.4C393.3 584.2 395.0 576.5 395.9 575.7C396.8 574.8 397.9 577.1 398.6 576.3C399.3 575.6 400.1 570.0 400.6 570.2C401.2 570.5 402.0 575.3 402.7 578.4C403.4 581.5 404.6 590.0 405.4 591.9C406.2 593.9 407.1 590.8 408.1 591.9C409.1 593.1 411.1 599.7 412.2 600.0C413.2 600.4 414.6 597.7 415.5 594.6C416.5 591.5 418.1 581.9 418.9 578.4C419.8 574.9 420.9 569.7 421.6 570.2C422.4 570.8 423.3 578.7 424.4 582.4C425.4 586.2 427.7 594.9 429.1 596.7C430.4 598.4 432.6 597.4 433.8 594.6C435.1 591.8 436.7 579.7 437.9 577.0C439.1 574.3 440.9 575.1 442.0 575.7C443.0 576.2 444.4 581.9 445.4 581.1C446.3 580.3 447.8 570.1 448.7 570.2C449.7 570.4 451.3 583.2 452.1 582.4C453.0 581.7 454.2 569.2 454.8 564.8C455.5 560.5 456.2 550.8 456.9 552.0C457.5 553.1 458.8 570.4 459.6 573.0C460.3 575.5 461.4 568.6 462.0 570.0C462.6 571.5 463.2 581.9 464.0 582.9C464.9 584.0 467.1 580.1 468.1 577.5C469.1 574.9 470.0 566.6 470.8 564.6C471.6 562.7 472.7 563.6 473.5 564.0C474.3 564.3 475.5 565.9 476.2 567.3C476.9 568.8 477.5 573.0 478.3 574.1C479.0 575.2 480.8 574.2 481.6 574.8C482.5 575.4 483.6 577.8 484.4 578.2C485.1 578.6 486.4 578.3 487.1 577.5C487.7 576.7 488.5 573.3 489.1 572.8C489.7 572.2 490.5 572.3 491.1 573.4C491.7 574.6 492.6 583.1 493.2 580.9C493.7 578.7 494.6 561.2 495.2 557.9C495.8 554.5 496.6 556.0 497.2 557.2C497.8 558.3 498.7 562.9 499.3 566.0C499.8 569.1 500.6 577.3 501.3 578.9C502.0 580.4 503.3 579.8 504.0 576.8C504.7 573.8 505.4 560.7 506.0 557.9C506.6 555.0 507.5 556.0 508.1 557.2C508.6 558.3 509.4 562.7 510.1 566.0C510.8 569.3 512.1 577.9 512.8 580.2C513.5 582.5 514.2 580.4 514.8 582.2C515.5 584.1 516.9 590.9 517.5 593.1C518.2 595.2 518.6 597.7 519.2 597.1C519.7 596.6 521.0 596.0 521.6 589.0C522.2 582.0 523.1 555.5 523.6 548.4C524.2 541.2 525.1 537.9 525.7 538.9C526.2 539.9 527.1 550.2 527.7 555.1C528.3 560.1 529.1 570.2 529.7 573.4C530.4 576.6 531.7 578.0 532.4 577.5C533.2 577.0 534.4 572.9 535.2 570.0C535.9 567.2 537.1 559.7 537.9 557.9C538.6 556.0 539.6 557.5 540.6 557.2C541.5 556.9 543.7 555.1 544.6 555.8C545.6 556.5 546.6 559.4 547.3 561.9C548.1 564.4 549.3 570.9 550.1 573.4C550.8 575.9 552.0 580.0 552.8 579.5C553.5 579.0 554.8 572.9 555.5 570.0C556.1 567.1 556.8 560.4 557.5 559.2C558.2 558.0 559.4 565.0 560.2 561.9C561.0 558.8 562.1 541.1 562.9 537.5C563.8 534.0 565.3 537.0 566.3 536.9C567.3 536.8 568.8 535.4 569.7 536.9C570.6 538.3 571.5 546.5 572.4 547.0C573.3 547.5 574.9 542.7 575.8 540.2C576.7 537.8 577.8 531.1 578.5 530.1C579.2 529.1 579.9 530.9 580.5 533.5C581.2 536.1 582.6 544.7 583.2 548.4C583.9 552.0 584.6 559.2 585.3 559.2C586.0 559.2 587.2 554.6 588.0 548.4C588.8 542.2 590.0 522.1 590.7 515.9C591.4 509.7 592.1 505.8 592.7 505.0C593.3 504.2 594.2 504.6 594.8 510.4C595.3 516.2 596.2 538.7 596.8 545.7C597.4 552.6 598.0 558.2 598.8 559.2C599.6 560.2 601.2 557.0 602.2 552.4C603.2 547.9 604.7 529.1 605.6 527.4C606.5 525.6 607.6 536.8 608.3 540.2C609.0 543.7 610.1 552.5 610.7 551.8C611.4 551.0 612.4 537.9 613.0 534.8C613.7 531.7 614.4 529.3 615.1 530.1C615.8 530.9 616.9 539.0 617.8 540.2C618.7 541.5 620.3 540.8 621.2 538.9C622.0 537.0 623.2 530.5 623.9 526.7C624.6 522.9 625.2 514.9 625.9 512.5C626.6 510.1 627.8 509.8 628.6 509.8C629.4 509.8 630.5 513.0 631.3 512.5C632.2 512.0 633.9 507.6 634.7 506.4C635.5 505.1 636.1 503.5 636.7 503.7C637.4 503.9 638.8 511.0 639.5 507.7C640.1 504.4 640.8 485.9 641.5 480.6C642.2 475.4 643.4 471.2 644.2 471.2C645.0 471.2 646.2 477.9 646.9 480.6C647.6 483.3 648.3 489.6 648.9 490.1C649.6 490.6 651.0 484.6 651.7 484.0C652.3 483.4 652.9 481.9 653.7 486.1C654.5 490.2 656.2 511.6 657.1 513.2C657.9 514.7 659.0 500.4 659.8 496.9C660.6 493.4 661.7 490.0 662.5 488.8C663.3 487.5 664.4 486.2 665.2 488.1C666.0 490.0 667.1 496.8 667.9 502.3C668.7 507.8 669.9 521.2 670.6 526.7C671.3 532.2 672.0 540.5 672.6 540.9C673.3 541.3 674.5 531.2 675.4 529.4C676.2 527.6 677.8 530.2 678.7 528.1C679.7 525.9 681.4 514.5 682.1 514.5C682.9 514.5 683.7 524.8 684.2 528.1C684.6 531.3 684.9 535.6 685.5 537.5C686.1 539.5 687.5 538.7 688.2 541.6C689.0 544.5 690.2 558.2 690.9 557.9C691.7 557.5 693.0 540.8 693.6 538.9C694.3 537.0 695.0 544.7 695.7 544.3C696.4 543.9 697.5 532.7 698.4 536.2C699.3 539.7 700.9 566.9 701.8 568.7C702.6 570.4 703.7 550.3 704.5 548.4C705.3 546.4 706.4 553.0 707.2 555.1C708.0 557.3 708.9 563.1 709.9 563.3C710.9 563.5 713.1 556.1 714.0 556.5C714.8 556.9 715.4 563.1 716.0 566.0C716.6 568.9 717.3 576.2 718.0 576.8C718.8 577.4 720.5 572.9 721.4 570.0C722.3 567.1 723.4 559.4 724.1 556.5C724.8 553.6 725.4 546.9 726.2 549.7C726.9 552.5 728.8 573.8 729.5 576.1C730.3 578.5 730.9 567.2 731.6 566.0C732.2 564.7 733.2 566.9 734.0 567.3C734.8 567.7 736.5 566.9 737.4 568.7C738.3 570.4 739.1 577.9 740.1 579.5C741.1 581.2 743.2 579.2 744.2 580.2C745.1 581.2 746.1 585.6 746.9 586.3C747.6 587.0 748.8 587.3 749.6 584.9C750.4 582.6 751.6 572.4 752.3 570.0C753.0 567.7 753.5 568.2 754.3 568.7C755.1 569.2 756.8 570.5 757.7 573.4C758.6 576.3 759.7 585.5 760.4 589.0C761.1 592.5 761.9 597.6 762.7 597.8C763.5 598.0 765.0 592.5 765.8 590.4C766.7 588.2 767.8 583.3 768.5 582.9C769.3 582.5 770.6 586.4 771.3 587.7C771.9 588.9 772.5 592.7 773.3 591.7C774.1 590.8 775.8 582.8 776.7 580.9C777.5 578.9 778.6 577.4 779.4 578.2C780.2 578.9 781.4 584.7 782.1 586.3C782.8 587.9 783.4 591.2 784.1 589.7C784.8 588.1 786.2 578.2 786.8 575.5C787.5 572.8 788.2 569.8 788.9 570.7C789.5 571.7 790.9 580.5 791.6 582.2C792.2 584.0 792.9 584.7 793.6 582.9C794.3 581.2 795.6 572.1 796.3 570.0C797.0 568.0 797.6 567.9 798.3 568.7C799.1 569.5 801.0 573.7 801.7 575.5C802.5 577.2 803.1 581.9 803.8 580.9C804.4 579.9 805.8 573.3 806.5 568.7C807.1 564.0 807.8 551.1 808.2 548.4C808.7 545.7 809.3 546.2 809.9 549.7C810.4 553.2 811.6 571.4 812.3 572.8C813.0 574.1 814.0 560.0 814.6 559.2C815.2 558.4 816.0 566.2 816.6 567.3C817.3 568.5 818.6 570.4 819.3 567.3C820.1 564.2 821.4 549.0 822.1 545.7C822.7 542.4 823.4 543.3 824.1 544.3C824.8 545.3 826.0 552.0 826.8 552.4C827.6 552.8 828.8 547.6 829.5 547.0C830.2 546.4 830.9 546.6 831.5 548.4C832.2 550.1 833.5 559.4 834.2 559.2C835.0 559.0 836.0 549.0 837.0 547.0C837.9 545.1 840.0 546.4 841.0 545.7C842.1 544.9 843.6 543.1 844.4 541.6C845.2 540.1 845.9 536.2 846.4 534.8C847.0 533.5 847.9 530.6 848.5 532.1C849.0 533.7 849.7 542.6 850.5 545.7C851.3 548.8 853.1 553.0 853.9 553.8C854.7 554.6 855.2 553.8 855.9 551.1C856.6 548.4 857.9 537.0 858.6 534.8C859.4 532.7 860.7 536.4 861.3 536.2C862.0 536.0 862.7 532.6 863.4 533.5C864.0 534.3 865.4 544.0 866.1 542.3C866.8 540.5 867.5 525.4 868.1 521.3C868.7 517.1 869.5 514.5 870.1 513.2C870.8 511.8 872.1 511.6 872.9 511.8C873.6 512.0 874.9 515.5 875.6 514.5C876.2 513.5 877.0 507.8 877.6 505.0C878.2 502.2 878.9 494.5 879.6 494.9C880.3 495.3 881.6 504.7 882.3 507.7C883.0 510.7 884.0 515.9 884.6 515.9C885.3 515.9 886.4 510.2 887.1 507.7C887.7 505.2 888.3 500.0 889.1 498.2C889.9 496.5 891.7 496.1 892.5 495.5C893.3 495.0 893.9 492.6 894.5 494.2C895.1 495.7 896.0 507.3 896.6 506.4C897.1 505.4 898.0 490.7 898.6 487.4C899.2 484.1 900.0 480.8 900.6 483.3C901.2 485.9 902.1 500.2 902.7 505.0C903.2 509.9 903.8 519.3 904.4 517.2C905.0 515.1 906.0 493.7 906.7 490.1C907.4 486.5 908.7 492.9 909.4 492.2C910.1 491.4 910.8 484.7 911.5 484.7C912.1 484.7 913.5 491.8 914.2 492.2C914.8 492.5 915.6 491.0 916.2 487.4C916.8 483.8 917.7 470.4 918.2 467.1C918.8 463.8 919.6 464.9 920.3 464.4C920.9 463.9 922.2 464.0 923.0 463.7C923.7 463.4 925.0 460.9 925.7 462.4C926.4 463.8 927.2 468.7 927.7 473.9C928.2 479.0 928.7 493.0 929.1 498.2C929.5 503.5 929.8 510.2 930.4 510.4C931.0 510.6 932.5 503.3 933.1 499.6C933.8 495.9 934.6 486.4 935.2 484.7C935.7 483.0 936.5 486.1 937.2 487.4C937.9 488.8 939.1 491.3 939.9 494.2C940.7 497.1 941.8 503.1 942.6 507.7C943.4 512.4 944.6 525.0 945.3 526.7C946.1 528.4 947.3 520.3 948.0 519.9C948.8 519.5 950.1 520.7 950.7 524.0C951.4 527.3 952.3 536.6 952.8 543.0C953.3 549.3 953.7 561.2 954.1 568.7C954.5 576.1 954.9 591.6 955.5 595.1C956.1 598.6 957.4 594.1 958.2 593.1C959.0 592.0 960.2 587.5 960.9 587.7C961.6 587.8 962.1 593.3 962.9 594.4C963.8 595.6 965.8 594.9 967.0 595.8C968.2 596.7 969.9 599.1 971.1 600.5C972.2 601.9 974.1 604.8 975.1 605.5C976.1 606.3 974.3 605.5 978.1 605.5C982.0 605.5 998.1 605.5 1001.9 605.5C1005.8 605.5 1004.5 605.5 1004.9 605.5" stroke="#0000ff" stroke-width="5.3"/>
<path d="M195.4 409.9C195.8 409.9 193.5 409.9 198.4 409.9C203.3 409.9 224.8 409.9 229.7 409.9C234.6 409.9 231.7 410.2 232.7 409.9C233.7 409.7 235.6 408.6 236.7 408.2C237.9 407.7 239.8 407.8 240.8 406.8C241.8 405.9 242.7 401.6 243.5 401.4C244.3 401.2 245.3 405.5 246.2 405.5C247.1 405.5 248.7 401.9 249.6 401.4C250.5 400.9 251.5 401.3 252.3 402.1C253.1 402.9 254.1 407.5 255.0 406.8C256.0 406.1 258.0 398.0 259.1 397.3C260.2 396.7 261.6 402.0 262.5 402.1C263.3 402.2 264.3 398.5 265.2 398.0C266.1 397.5 267.5 399.4 268.6 398.7C269.6 398.0 271.5 392.8 272.6 393.3C273.8 393.8 275.7 401.3 276.7 402.1C277.7 402.9 278.6 398.6 279.4 398.7C280.2 398.8 281.3 404.3 282.1 402.8C282.9 401.2 284.1 390.8 284.8 387.9C285.5 385.0 286.2 381.1 286.9 382.4C287.5 383.8 288.8 395.0 289.6 397.3C290.3 399.7 291.5 398.3 292.3 398.7C293.0 399.1 294.2 401.4 295.0 400.0C295.8 398.7 296.9 390.7 297.7 389.2C298.5 387.8 299.5 388.4 300.4 389.9C301.3 391.3 302.9 400.0 303.8 399.4C304.7 398.7 305.8 387.8 306.5 385.1C307.2 382.5 307.9 380.3 308.5 381.1C309.2 381.9 310.4 389.8 311.2 390.6C312.1 391.3 313.8 386.4 314.6 386.5C315.5 386.6 316.6 392.4 317.3 391.2C318.1 390.1 319.2 379.6 320.0 378.4C320.9 377.1 322.6 383.0 323.4 382.4C324.3 381.9 325.5 375.7 326.1 374.3C326.8 373.0 327.5 371.0 328.2 373.0C328.9 374.9 330.1 388.2 330.9 387.9C331.7 387.5 332.8 373.5 333.6 370.2C334.4 367.0 335.6 365.2 336.3 364.8C337.0 364.4 337.7 364.4 338.3 367.5C339.0 370.6 340.3 382.8 341.0 386.5C341.8 390.2 343.0 395.2 343.8 393.3C344.5 391.3 345.7 377.4 346.5 373.0C347.2 368.5 348.4 362.1 349.2 362.1C349.9 362.1 351.2 369.7 351.9 373.0C352.6 376.2 353.2 385.9 353.9 385.1C354.6 384.4 355.9 371.0 356.6 367.5C357.3 364.1 358.0 360.0 358.7 360.8C359.3 361.5 360.7 369.9 361.4 373.0C362.0 376.0 362.7 382.2 363.4 382.4C364.1 382.6 365.4 374.5 366.1 374.3C366.8 374.1 367.5 382.6 368.1 381.1C368.8 379.5 370.1 366.2 370.8 363.5C371.6 360.8 373.0 360.4 373.6 362.1C374.1 363.9 374.3 376.4 374.9 375.7C375.5 374.9 376.8 359.7 377.6 356.7C378.4 353.7 379.6 352.7 380.3 354.7C381.1 356.6 382.3 365.7 383.0 370.2C383.8 374.8 384.9 383.8 385.7 386.5C386.6 389.2 388.4 388.0 389.1 389.2C389.9 390.4 390.5 393.4 391.2 394.6C391.8 395.9 393.1 399.6 393.9 398.0C394.6 396.5 395.9 387.8 396.6 383.8C397.3 379.8 397.9 372.0 398.6 370.2C399.3 368.5 400.6 375.5 401.3 371.6C402.1 367.7 403.4 348.2 404.0 343.2C404.7 338.1 405.5 335.2 406.1 336.4C406.6 337.5 407.6 345.3 408.1 351.3C408.6 357.3 409.0 373.9 409.5 378.4C409.9 382.8 410.9 380.1 411.5 382.4C412.1 384.8 412.9 391.8 413.5 394.6C414.1 397.4 414.9 402.9 415.5 402.1C416.2 401.3 417.6 391.3 418.3 389.2C418.9 387.1 419.6 386.8 420.3 387.2C421.0 387.6 422.0 389.9 423.0 391.9C424.0 394.0 426.1 402.2 427.1 401.4C428.0 400.6 429.0 390.0 429.8 386.5C430.5 383.0 431.7 376.2 432.5 377.0C433.3 377.8 434.4 389.0 435.2 391.9C436.0 394.8 436.9 397.3 437.9 397.3C438.9 397.3 440.9 391.0 442.0 391.9C443.0 392.9 444.5 404.3 445.4 404.1C446.2 403.9 447.3 392.9 448.1 390.6C448.8 388.2 450.0 388.4 450.8 387.9C451.5 387.3 452.8 388.4 453.5 386.5C454.2 384.6 454.8 377.0 455.5 374.3C456.2 371.6 457.4 367.1 458.2 367.5C459.0 367.9 460.4 375.5 460.9 377.0C461.5 378.5 461.5 376.6 462.0 378.2C462.5 379.8 463.8 389.7 464.7 388.3C465.6 387.0 467.1 369.8 468.1 368.7C469.1 367.6 470.5 381.0 471.5 380.9C472.5 380.8 474.0 368.4 474.9 368.0C475.7 367.6 476.7 376.7 477.6 378.2C478.4 379.6 480.0 377.8 481.0 378.2C481.9 378.6 483.6 380.7 484.4 380.9C485.1 381.1 485.8 382.0 486.4 379.5C487.0 377.0 488.0 364.0 488.7 363.3C489.4 362.5 490.5 370.7 491.1 374.1C491.8 377.5 492.4 386.6 493.2 387.0C493.9 387.4 495.7 376.1 496.5 376.8C497.4 377.5 498.4 390.9 499.3 391.7C500.1 392.5 501.8 384.8 502.6 382.2C503.5 379.7 504.6 374.9 505.3 374.1C506.1 373.3 507.2 378.1 508.1 376.8C508.9 375.6 510.6 365.7 511.4 365.3C512.3 364.9 513.5 370.5 514.2 374.1C514.8 377.7 515.6 387.4 516.2 390.4C516.8 393.4 517.6 398.2 518.2 395.1C518.8 392.0 519.7 374.9 520.2 368.7C520.8 362.5 521.6 352.1 522.3 351.8C523.0 351.4 524.2 363.1 525.0 366.0C525.8 368.9 527.0 369.8 527.7 372.1C528.4 374.4 529.1 377.9 529.7 382.2C530.4 386.6 531.7 400.4 532.4 402.6C533.2 404.7 534.4 402.0 535.2 397.1C535.9 392.3 537.1 375.5 537.9 368.7C538.6 361.9 539.8 348.6 540.6 349.7C541.3 350.9 542.5 374.5 543.3 376.8C544.1 379.1 545.0 366.9 546.0 366.0C547.0 365.0 549.1 369.8 550.1 370.0C551.0 370.3 552.0 365.4 552.8 368.0C553.5 370.6 554.7 388.2 555.5 388.3C556.2 388.4 557.4 375.2 558.2 368.7C559.0 362.2 560.1 343.9 560.9 343.0C561.7 342.0 562.8 357.3 563.6 361.9C564.4 366.6 565.4 374.3 566.3 375.5C567.2 376.6 568.7 372.6 569.7 370.0C570.7 367.5 572.1 359.0 573.1 357.9C574.0 356.7 575.5 363.6 576.5 361.9C577.4 360.3 578.9 347.9 579.9 346.3C580.8 344.8 582.4 350.6 583.2 351.1C584.1 351.6 585.1 347.8 586.0 349.7C586.8 351.7 588.4 366.4 589.3 364.6C590.3 362.9 591.9 340.1 592.7 337.5C593.6 335.0 594.4 347.7 595.4 347.0C596.5 346.3 599.0 330.0 600.2 332.8C601.3 335.6 602.8 362.1 603.6 366.7C604.3 371.2 604.8 369.3 605.6 364.6C606.4 360.0 608.1 338.0 609.0 334.1C609.8 330.3 610.8 334.9 611.7 337.5C612.6 340.1 614.2 348.6 615.1 352.4C615.9 356.3 617.1 365.8 617.8 364.6C618.5 363.5 619.0 347.6 619.8 344.3C620.6 341.0 622.3 344.9 623.2 341.6C624.1 338.3 625.1 321.9 625.9 321.3C626.7 320.7 627.9 333.6 628.6 337.5C629.3 341.5 629.9 349.4 630.7 349.0C631.4 348.7 633.1 338.8 634.0 334.8C635.0 330.9 636.5 322.2 637.4 321.3C638.4 320.3 639.7 326.5 640.8 328.1C641.9 329.6 643.9 332.7 644.9 332.1C645.8 331.5 646.9 327.7 647.6 324.0C648.3 320.3 649.0 308.7 649.6 306.4C650.2 304.1 651.1 309.2 651.7 307.7C652.2 306.3 653.1 295.1 653.7 296.2C654.3 297.4 655.2 311.3 655.7 315.9C656.2 320.4 656.5 328.1 657.1 328.1C657.6 328.1 659.2 325.5 659.8 315.9C660.4 306.2 660.8 270.8 661.1 260.3C661.5 249.9 661.8 243.7 662.2 242.7C662.6 241.7 663.4 246.2 663.8 253.5C664.3 260.9 664.5 288.6 665.2 294.2C665.9 299.8 667.7 289.9 668.6 292.8C669.5 295.7 670.4 311.5 671.3 314.5C672.2 317.5 673.9 310.5 674.7 313.8C675.5 317.1 676.2 332.7 676.7 337.5C677.3 342.4 677.8 348.5 678.5 347.7C679.1 346.9 680.6 335.1 681.5 332.1C682.3 329.1 683.4 331.3 684.2 326.7C684.9 322.1 685.8 300.4 686.5 299.6C687.1 298.8 688.3 314.3 688.9 321.3C689.5 328.2 690.3 346.4 690.9 348.4C691.6 350.3 692.9 334.8 693.6 334.8C694.4 334.8 695.7 343.8 696.4 348.4C697.0 352.9 697.6 365.9 698.4 366.7C699.2 367.4 700.8 357.8 701.8 353.8C702.7 349.8 704.4 340.8 705.2 338.9C705.9 337.0 706.6 339.3 707.2 340.2C707.8 341.2 708.5 348.0 709.2 345.7C709.9 343.3 711.3 327.5 711.9 324.0C712.6 320.5 713.4 320.9 714.0 321.3C714.5 321.7 715.4 322.1 716.0 326.7C716.6 331.3 717.4 351.1 718.0 353.8C718.6 356.5 719.4 348.0 720.1 345.7C720.7 343.3 722.0 335.2 722.8 337.5C723.5 339.9 724.7 356.1 725.5 361.9C726.3 367.7 727.4 374.6 728.2 378.2C729.0 381.8 730.1 387.4 730.9 387.0C731.7 386.6 733.2 378.3 734.0 375.5C734.8 372.7 736.0 368.6 736.7 367.3C737.4 366.1 738.1 365.7 738.7 366.7C739.4 367.6 740.7 371.7 741.5 374.1C742.2 376.5 743.3 382.4 744.2 383.6C745.0 384.8 746.8 382.0 747.5 382.2C748.3 382.4 748.9 386.5 749.6 384.9C750.3 383.4 751.5 373.8 752.3 371.4C753.1 369.0 754.3 368.4 755.0 368.0C755.7 367.6 756.3 367.4 757.0 368.7C757.8 369.9 759.5 377.2 760.4 376.8C761.3 376.4 762.4 367.8 763.1 366.0C763.9 364.1 765.2 363.6 765.8 364.0C766.5 364.3 767.2 364.9 767.9 368.7C768.5 372.5 769.8 386.7 770.6 390.4C771.3 394.0 772.6 396.6 773.3 394.4C774.0 392.3 774.8 379.1 775.3 375.5C775.9 371.8 776.5 367.7 777.1 368.7C777.7 369.7 778.7 380.7 779.4 382.2C780.1 383.8 781.4 378.9 782.1 379.5C782.8 380.1 783.5 382.7 784.1 386.3C784.7 389.9 785.6 402.5 786.2 404.6C786.7 406.7 787.5 403.7 788.2 401.2C788.9 398.7 790.1 388.7 790.9 387.0C791.7 385.2 792.9 387.4 793.6 389.0C794.3 390.7 795.4 399.3 796.0 398.5C796.7 397.7 797.7 386.1 798.3 383.6C799.0 381.1 799.7 379.3 800.4 380.9C801.1 382.4 802.4 392.3 803.1 394.4C803.8 396.6 804.3 397.5 805.1 395.8C805.9 394.0 807.6 385.1 808.5 382.2C809.4 379.3 810.4 375.9 811.2 375.5C812.0 375.1 813.1 378.2 813.9 379.5C814.8 380.9 816.4 386.3 817.3 384.9C818.2 383.6 819.2 371.7 820.0 370.0C820.8 368.4 822.1 372.3 822.7 373.4C823.4 374.6 824.1 379.0 824.8 378.2C825.4 377.3 826.7 368.0 827.5 367.3C828.2 366.7 829.4 373.6 830.2 373.4C831.0 373.2 832.2 370.5 832.9 366.0C833.6 361.4 834.2 345.7 834.9 341.6C835.6 337.5 836.8 337.3 837.6 337.5C838.5 337.7 840.0 339.0 841.0 343.0C842.0 346.9 843.6 362.6 844.4 365.3C845.2 368.0 845.8 365.9 846.4 361.9C847.1 358.0 848.3 343.0 849.1 337.5C850.0 332.1 851.7 324.4 852.5 324.0C853.4 323.6 854.5 330.8 855.2 334.8C856.0 338.9 857.2 348.5 858.0 352.4C858.7 356.4 859.8 362.6 860.7 362.6C861.5 362.6 863.1 352.0 864.0 352.4C865.0 352.8 866.5 364.1 867.4 365.3C868.4 366.5 869.8 361.1 870.8 360.6C871.9 360.0 873.9 363.0 874.9 361.2C875.9 359.5 876.8 354.1 877.6 348.4C878.4 342.7 879.5 328.6 880.3 321.3C881.1 313.9 882.3 301.1 883.0 296.9C883.7 292.7 884.4 289.4 885.0 292.2C885.7 294.9 887.0 312.2 887.8 315.9C888.5 319.5 889.7 318.7 890.5 317.9C891.2 317.1 892.5 313.5 893.2 310.4C893.8 307.3 894.5 294.3 895.2 296.2C895.9 298.2 897.2 318.5 897.9 324.0C898.6 329.5 899.3 338.1 899.9 334.8C900.6 331.5 901.9 308.7 902.7 301.0C903.4 293.2 904.3 280.8 905.0 280.6C905.6 280.4 906.7 296.5 907.4 299.6C908.1 302.7 909.3 303.7 910.1 302.3C910.9 301.0 911.9 292.5 912.8 290.1C913.7 287.7 915.1 285.4 916.2 285.4C917.3 285.4 919.4 294.0 920.3 290.1C921.1 286.2 921.7 266.3 922.2 258.0C922.7 249.7 923.4 235.9 923.9 232.0C924.4 228.1 925.1 230.5 925.6 230.4C926.1 230.3 927.1 229.6 927.7 231.0C928.3 232.4 929.1 237.6 929.7 240.0C930.3 242.4 931.1 247.7 931.7 248.0C932.3 248.3 933.3 242.6 933.8 242.0C934.3 241.4 935.1 240.8 935.5 244.0C935.9 247.2 936.5 258.6 936.8 264.5C937.1 270.4 937.1 283.1 937.5 285.0C937.9 286.9 939.4 276.6 939.9 277.9C940.4 279.2 940.7 290.3 941.3 294.2C941.8 298.1 943.3 306.4 944.0 305.0C944.6 303.7 945.5 289.0 946.0 284.7C946.5 280.4 947.2 273.9 947.8 275.2C948.3 276.6 949.4 288.0 950.1 294.2C950.7 300.4 951.4 314.6 952.1 318.6C952.8 322.5 953.9 321.4 954.8 322.0C955.7 322.5 957.3 320.8 958.2 322.6C959.1 324.5 960.2 329.2 960.9 334.8C961.6 340.4 962.5 353.2 962.9 361.9C963.4 370.6 963.6 391.3 964.3 395.8C965.0 400.2 966.7 391.9 967.7 393.1C968.6 394.2 970.1 403.4 971.1 403.9C972.0 404.4 973.6 397.0 974.4 396.5C975.3 395.9 976.3 398.2 977.2 399.8C978.0 401.5 979.4 407.0 980.5 408.0C981.7 408.9 983.9 406.3 985.3 406.6C986.6 406.9 987.2 409.5 990.0 410.0C992.8 410.5 1002.8 410.0 1004.9 410.0" stroke="#ff0000" stroke-width="5.3"/>
<path d="M195.4 212.2C195.8 212.2 190.5 212.2 198.4 212.2C206.3 212.2 242.8 212.2 250.7 212.2C258.6 212.2 252.3 212.4 253.7 212.2C255.1 211.9 259.0 210.9 260.4 210.4C261.9 209.9 263.1 209.1 263.8 208.4C264.6 207.6 265.2 205.2 265.9 205.0C266.5 204.8 267.8 207.0 268.6 207.0C269.3 207.0 270.4 205.2 271.3 205.0C272.1 204.8 273.7 205.3 274.7 205.7C275.6 206.0 277.1 208.9 278.1 207.7C279.0 206.5 280.6 198.0 281.4 197.5C282.3 197.1 283.4 203.9 284.1 204.3C284.9 204.7 286.0 200.5 286.9 200.2C287.7 200.0 289.4 202.3 290.2 202.3C291.1 202.3 292.1 201.6 293.0 200.2C293.8 198.9 295.4 192.1 296.3 192.8C297.3 193.5 298.7 203.5 299.7 205.0C300.8 206.4 302.7 204.6 303.8 203.0C304.9 201.3 306.3 196.2 307.2 193.5C308.0 190.8 309.0 183.2 309.9 184.0C310.8 184.8 312.4 197.0 313.3 198.9C314.1 200.8 315.1 197.1 316.0 197.5C316.9 197.9 318.5 202.0 319.4 201.6C320.2 201.2 321.3 196.0 322.1 194.8C322.9 193.7 323.9 195.2 324.8 193.5C325.7 191.7 327.3 182.6 328.2 182.6C329.0 182.6 330.0 192.2 330.9 193.5C331.8 194.7 333.3 192.0 334.3 191.4C335.2 190.9 336.8 191.0 337.7 189.4C338.5 187.9 339.5 180.8 340.4 180.6C341.2 180.4 342.8 188.7 343.8 188.1C344.7 187.4 346.1 175.7 347.1 175.9C348.2 176.1 350.2 187.6 351.2 189.4C352.2 191.2 353.2 190.4 353.9 188.7C354.6 187.1 355.0 179.3 355.9 177.9C356.9 176.4 359.5 177.1 360.7 178.6C361.8 180.0 363.3 185.4 364.1 188.1C364.8 190.7 365.4 196.9 366.1 196.9C366.8 196.9 368.0 191.9 368.8 188.1C369.6 184.2 370.7 172.5 371.5 169.8C372.3 167.1 373.4 165.7 374.2 169.1C375.1 172.5 376.7 193.7 377.6 193.5C378.6 193.3 380.2 171.0 381.0 167.7C381.8 164.4 382.4 167.0 383.0 170.4C383.7 173.9 384.8 191.6 385.7 192.1C386.7 192.6 388.6 173.0 389.8 173.8C391.1 174.7 393.3 198.6 394.6 198.2C395.8 197.8 397.6 174.7 398.6 171.1C399.6 167.5 400.6 173.1 401.3 173.2C402.1 173.2 403.0 170.1 404.0 171.8C405.1 173.5 407.6 184.8 408.8 185.3C409.9 185.9 411.0 179.5 412.2 175.9C413.3 172.2 415.5 157.6 416.9 159.6C418.3 161.6 420.6 186.8 421.6 190.1C422.7 193.4 423.6 183.4 424.4 182.6C425.1 181.9 426.2 188.1 427.1 184.7C427.9 181.2 429.6 163.6 430.4 158.2C431.3 152.9 432.4 147.2 433.2 147.4C433.9 147.6 435.0 151.8 435.9 159.6C436.7 167.4 438.1 196.8 439.0 202.3C439.9 207.8 441.1 198.0 442.0 198.2C442.9 198.4 444.5 203.3 445.4 203.6C446.2 203.9 447.2 201.9 448.1 200.2C448.9 198.6 450.3 195.9 451.4 192.1C452.6 188.3 455.0 172.1 456.2 173.8C457.3 175.6 458.7 199.7 459.6 204.3C460.4 208.9 461.3 206.6 462.0 206.3C462.7 206.0 463.8 204.3 464.7 202.2C465.6 200.2 467.2 192.3 468.1 192.1C469.0 191.9 470.0 199.4 470.8 200.9C471.6 202.3 472.7 203.8 473.5 202.2C474.3 200.7 475.4 192.2 476.2 190.0C477.0 187.9 478.1 186.8 478.9 187.3C479.8 187.9 481.5 193.3 482.3 194.1C483.1 194.9 483.7 194.9 484.4 192.8C485.0 190.6 486.4 183.9 487.1 179.2C487.7 174.6 488.5 158.1 489.1 160.2C489.7 162.4 490.4 192.0 491.1 194.1C491.8 196.2 493.1 177.3 493.8 175.1C494.6 173.0 495.7 177.6 496.5 179.2C497.4 180.9 499.1 186.9 499.9 186.7C500.8 186.5 501.9 179.9 502.6 177.9C503.4 175.8 504.6 173.8 505.3 172.4C506.1 171.1 507.3 168.2 508.1 168.4C508.8 168.6 510.0 172.2 510.8 173.8C511.5 175.3 512.7 177.1 513.5 179.2C514.3 181.3 515.5 187.0 516.2 188.7C516.9 190.3 517.4 191.5 518.2 190.7C519.0 189.9 520.5 186.1 521.6 183.3C522.7 180.5 524.6 171.9 525.7 171.1C526.7 170.3 528.2 176.6 529.1 177.9C529.9 179.1 531.0 178.1 531.8 179.9C532.5 181.6 533.7 190.1 534.5 190.0C535.2 189.9 536.4 181.4 537.2 179.2C538.0 177.0 539.2 174.7 539.9 174.5C540.6 174.3 541.2 175.6 541.9 177.9C542.6 180.1 544.0 187.7 544.6 190.0C545.3 192.4 546.0 195.3 546.7 194.1C547.3 192.9 548.5 187.5 549.4 181.9C550.2 176.3 551.9 156.8 552.8 154.8C553.6 152.9 554.8 163.9 555.5 168.4C556.1 172.8 556.7 182.7 557.5 186.0C558.3 189.3 559.8 189.9 560.9 191.4C562.0 192.9 564.0 197.6 565.0 196.8C565.9 196.0 566.9 191.0 567.7 186.0C568.4 181.0 569.6 166.3 570.4 161.6C571.1 156.9 572.3 152.2 573.1 152.8C573.9 153.4 575.0 163.6 575.8 165.7C576.6 167.7 577.7 165.7 578.5 167.0C579.3 168.4 580.3 175.1 581.2 175.1C582.1 175.1 583.8 168.7 584.6 167.0C585.4 165.4 586.0 163.2 586.6 163.6C587.2 164.0 588.1 170.2 588.7 169.7C589.2 169.2 590.0 161.9 590.7 160.2C591.4 158.6 592.6 157.2 593.4 158.2C594.2 159.2 595.2 162.7 596.1 167.0C597.0 171.4 598.5 186.6 599.5 188.7C600.5 190.8 601.9 186.8 602.9 181.9C603.9 177.1 605.2 162.5 606.3 154.8C607.3 147.2 609.4 130.3 610.3 128.4C611.3 126.5 612.5 136.2 613.0 141.3C613.6 146.4 613.7 160.8 614.4 164.3C615.1 167.8 616.8 163.5 617.8 165.7C618.8 167.8 620.3 179.8 621.2 179.2C622.0 178.6 623.1 164.3 623.9 161.6C624.7 158.9 626.0 160.8 626.6 160.2C627.2 159.7 627.5 160.2 627.9 157.5C628.4 154.8 628.9 140.9 629.6 141.3C630.2 141.7 632.0 160.4 632.7 160.2C633.4 160.1 634.1 145.0 634.7 139.9C635.3 134.9 636.2 125.6 637.0 125.0C637.8 124.4 639.4 133.5 640.1 135.9C640.9 138.2 641.6 138.6 642.2 141.3C642.7 144.0 643.6 154.1 644.2 154.8C644.8 155.6 645.7 149.4 646.2 146.7C646.8 144.0 647.6 135.9 648.3 135.9C648.9 135.9 649.9 142.1 650.6 146.7C651.2 151.2 651.9 167.3 652.6 167.7C653.3 168.1 654.7 154.7 655.7 149.4C656.7 144.1 658.8 131.2 659.8 130.4C660.7 129.7 661.7 139.7 662.5 144.0C663.3 148.2 664.4 163.0 665.2 160.2C666.0 157.5 667.1 129.7 667.9 125.0C668.7 120.4 669.8 124.2 670.6 127.7C671.4 131.2 672.6 145.3 673.3 149.4C674.0 153.5 675.0 159.7 675.6 156.2C676.3 152.7 677.5 131.5 678.1 125.0C678.6 118.5 679.0 111.2 679.7 110.8C680.4 110.4 682.1 122.2 682.8 122.3C683.5 122.4 684.3 115.0 684.8 111.5C685.4 108.0 686.2 96.6 686.9 97.9C687.5 99.3 688.9 114.9 689.6 121.0C690.2 127.1 690.8 143.4 691.3 140.6C691.9 137.8 692.8 113.7 693.3 101.3C693.9 88.9 694.9 63.0 695.4 53.9C695.9 44.8 696.3 36.6 696.7 37.6C697.2 38.6 698.1 53.5 698.5 60.6C698.9 67.8 699.3 85.4 699.9 87.7C700.4 90.1 701.6 78.3 702.2 76.9C702.7 75.4 703.0 75.8 703.5 77.6C704.0 79.3 704.9 86.5 705.5 89.1C706.2 91.7 707.6 91.2 708.2 95.9C708.9 100.5 709.7 114.2 710.3 121.6C710.9 129.0 711.7 143.9 712.3 147.3C712.9 150.8 713.8 148.7 714.3 146.0C714.9 143.3 715.8 132.4 716.4 128.4C717.0 124.3 717.7 118.3 718.4 117.5C719.1 116.8 720.4 117.7 721.1 123.0C721.8 128.2 722.4 150.6 723.2 154.1C723.9 157.6 725.8 147.1 726.5 147.3C727.3 147.5 727.9 154.1 728.6 155.5C729.2 156.8 730.4 155.2 731.3 156.8C732.1 158.5 733.7 166.0 734.7 167.0C735.6 167.9 737.3 163.9 738.1 163.6C738.8 163.3 739.3 167.2 740.1 164.9C740.9 162.7 742.6 149.9 743.5 148.0C744.3 146.1 745.2 148.7 746.2 151.4C747.1 154.1 749.3 166.4 750.2 167.0C751.2 167.6 752.4 158.5 753.0 155.5C753.5 152.5 753.8 147.1 754.3 146.0C754.8 144.8 755.9 143.0 756.3 147.3C756.8 151.7 757.1 174.3 757.7 176.5C758.3 178.6 759.7 165.6 760.4 162.2C761.1 158.9 761.9 151.8 762.4 152.8C763.0 153.7 763.9 164.8 764.5 169.0C765.0 173.3 765.8 182.9 766.5 182.6C767.2 182.2 768.4 168.4 769.2 166.3C770.0 164.2 771.1 169.4 771.9 167.7C772.7 165.9 774.0 156.0 774.6 154.1C775.3 152.2 776.0 153.1 776.7 154.1C777.3 155.1 778.5 159.7 779.4 160.9C780.2 162.0 782.0 163.5 782.8 162.2C783.5 161.0 784.2 152.1 784.8 152.1C785.4 152.1 786.3 158.9 786.8 162.2C787.3 165.6 787.6 174.0 788.2 175.8C788.8 177.5 790.1 172.9 790.9 174.4C791.7 176.0 792.7 185.6 793.6 186.6C794.5 187.7 796.2 182.5 797.0 181.9C797.8 181.3 798.2 181.1 799.0 182.6C799.8 184.0 801.4 190.5 802.4 192.0C803.4 193.6 804.9 196.1 805.8 193.4C806.7 190.7 807.8 176.7 808.5 173.1C809.2 169.5 809.9 167.9 810.5 168.3C811.1 168.7 812.0 173.0 812.6 175.8C813.1 178.6 813.9 186.4 814.6 188.0C815.3 189.5 816.7 185.0 817.3 186.6C817.9 188.3 818.2 196.5 818.7 199.5C819.2 202.5 820.1 208.5 820.7 207.7C821.3 206.8 822.1 195.8 822.7 193.4C823.4 191.1 824.8 190.4 825.4 191.4C826.1 192.4 826.8 198.7 827.5 200.2C828.2 201.8 829.7 202.5 830.5 202.2C831.2 201.9 832.3 199.7 832.9 198.2C833.5 196.6 834.3 193.7 834.9 191.4C835.5 189.1 836.4 184.0 837.0 181.9C837.5 179.9 838.4 176.1 839.0 177.2C839.6 178.2 840.2 188.1 841.0 189.4C841.8 190.6 843.5 186.7 844.4 186.0C845.3 185.3 846.3 184.4 847.1 184.6C847.9 184.8 849.1 188.3 849.8 187.3C850.5 186.4 851.1 178.8 851.9 177.9C852.6 176.9 854.6 183.9 855.2 180.6C855.9 177.3 856.1 159.9 856.6 154.8C857.1 149.8 858.0 144.2 858.6 145.3C859.3 146.5 860.7 158.3 861.3 163.0C862.0 167.6 862.7 177.1 863.4 177.9C864.0 178.6 865.4 172.4 866.1 168.4C866.8 164.3 867.4 151.9 868.1 149.4C868.8 146.9 869.9 148.8 870.8 150.8C871.7 152.7 873.5 159.5 874.2 163.0C874.9 166.4 875.4 176.7 876.0 175.1C876.5 173.6 877.6 157.8 878.3 152.1C879.0 146.4 880.2 134.6 881.0 135.2C881.8 135.8 882.9 155.3 883.7 156.2C884.5 157.1 885.7 147.3 886.4 141.3C887.1 135.3 887.8 118.2 888.4 114.2C889.0 110.1 889.8 110.9 890.5 112.8C891.1 114.8 892.5 124.2 893.2 127.7C893.8 131.2 894.4 138.8 894.9 137.2C895.5 135.7 896.6 120.2 897.2 116.9C897.9 113.6 898.4 113.0 899.3 114.2C900.1 115.3 902.5 127.0 903.3 125.0C904.2 123.1 904.8 104.7 905.4 100.6C905.9 96.6 906.9 96.6 907.4 96.6C907.9 96.6 908.3 102.0 908.7 100.6C909.2 99.3 910.0 87.1 910.8 87.1C911.6 87.1 913.3 96.6 914.2 100.6C915.0 104.7 916.2 114.0 916.9 115.5C917.6 117.1 918.3 114.6 918.9 111.5C919.5 108.4 920.2 96.7 920.9 93.9C921.7 91.1 923.6 94.0 924.3 91.8C925.1 89.7 925.7 81.1 926.4 79.0C927.0 76.8 928.4 76.0 929.1 76.9C929.7 77.9 930.4 86.2 931.1 85.7C931.8 85.3 933.3 79.0 933.8 73.5C934.4 68.1 934.3 46.7 935.0 47.6C935.7 48.5 937.5 70.1 938.5 80.0C939.5 89.9 941.4 119.9 942.3 117.0C943.2 114.1 944.3 76.4 945.0 60.0C945.7 43.6 946.9 5.3 947.3 2.0C947.7 -1.3 947.8 37.0 948.0 37.0C948.2 37.0 948.6 2.0 948.8 2.0C949.0 2.0 949.4 37.1 949.6 37.1C949.8 37.1 950.2 1.6 950.4 2.0C950.6 2.4 951.0 40.0 951.2 40.0C951.4 40.0 951.8 1.5 952.0 2.0C952.2 2.5 952.6 43.4 952.8 43.4C953.0 43.4 953.4 2.8 953.6 2.0C953.8 1.2 954.2 37.7 954.4 37.7C954.6 37.7 955.0 2.1 955.2 2.0C955.4 1.9 955.8 37.0 956.0 37.0C956.2 37.0 956.6 7.0 956.8 2.0C957.0 -3.0 957.0 -6.0 957.2 2.0C957.4 10.0 957.6 48.9 958.0 58.0C958.4 67.1 959.4 62.9 960.0 66.0C960.6 69.1 961.4 74.1 962.0 80.0C962.6 85.9 963.7 100.8 964.3 107.0C964.9 113.2 965.6 121.7 966.3 123.7C967.0 125.7 968.4 123.7 969.0 121.0C969.7 118.2 970.5 108.6 971.1 104.7C971.6 100.8 972.1 92.5 972.7 93.9C973.3 95.2 974.6 107.4 975.1 114.2C975.7 121.0 976.1 134.3 976.5 141.3C976.9 148.2 977.3 157.5 977.8 163.0C978.4 168.4 979.8 175.3 980.5 179.2C981.3 183.1 982.6 186.6 983.3 190.0C983.9 193.5 984.6 201.2 985.3 203.6C986.0 206.0 987.3 207.5 988.0 207.0C988.7 206.5 989.7 200.7 990.4 200.2C991.2 199.7 992.5 202.6 993.4 203.6C994.3 204.6 995.2 206.7 996.8 207.0C998.4 207.3 1003.8 205.8 1004.9 205.6" stroke="#000000" stroke-width="4.8"/>
</g>
<g stroke="#000" stroke-width="7.0" stroke-linecap="round" fill="none">
<path d="M1195.0 174.5 H2000.5" />
<path d="M1195.0 1043.9 H2000.5" />
<path d="M1211.0 174.5 V1050.9" stroke-linecap="butt"/>
<path d="M2000.5 174.5 V1050.9" stroke-linecap="butt"/>
<path d="M1211.0 1043.9 V1051.4"/>
<path d="M2000.5 1043.9 V1051.4"/>
<path d="M1195.0 1043.9 H1208.0"/>
<path d="M1203.0 981.8 H1208.0"/>
<path d="M1195.0 919.7 H1208.0"/>
<path d="M1203.0 857.6 H1208.0"/>
<path d="M1195.0 795.5 H1208.0"/>
<path d="M1203.0 733.4 H1208.0"/>
<path d="M1195.0 671.3 H1208.0"/>
<path d="M1203.0 609.2 H1208.0"/>
<path d="M1195.0 547.1 H1208.0"/>
<path d="M1203.0 485.0 H1208.0"/>
<path d="M1195.0 422.9 H1208.0"/>
<path d="M1203.0 360.8 H1208.0"/>
<path d="M1195.0 298.7 H1208.0"/>
<path d="M1203.0 236.6 H1208.0"/>
<path d="M1195.0 174.5 H1208.0"/>
<path d="M1276.6 1046.9 V1059.9"/>
<path d="M1342.4 1046.9 V1051.4"/>
<path d="M1408.2 1046.9 V1059.9"/>
<path d="M1474.0 1046.9 V1051.4"/>
<path d="M1539.8 1046.9 V1059.9"/>
<path d="M1605.6 1046.9 V1051.4"/>
<path d="M1671.4 1046.9 V1059.9"/>
<path d="M1737.2 1046.9 V1051.4"/>
<path d="M1803.0 1046.9 V1059.9"/>
<path d="M1868.8 1046.9 V1051.4"/>
<path d="M1934.6 1046.9 V1059.9"/>
</g>
<text class="b" x="1182" y="1055.1" font-size="36" text-anchor="end">0.2</text>
<text class="b" x="1182" y="930.9" font-size="36" text-anchor="end">0.4</text>
<text class="b" x="1182" y="806.7" font-size="36" text-anchor="end">0.6</text>
<text class="b" x="1182" y="682.5" font-size="36" text-anchor="end">0.8</text>
<text class="b" x="1182" y="558.3" font-size="36" text-anchor="end">1.0</text>
<text class="b" x="1182" y="434.1" font-size="36" text-anchor="end">1.2</text>
<text class="b" x="1182" y="309.9" font-size="36" text-anchor="end">1.4</text>
<text class="b" x="1182" y="185.7" font-size="36" text-anchor="end">1.6</text>
<text class="b" x="1276.6" y="1101.3" font-size="36" text-anchor="middle">0.0</text>
<text class="b" x="1408.2" y="1101.3" font-size="36" text-anchor="middle">0.2</text>
<text class="b" x="1539.8" y="1101.3" font-size="36" text-anchor="middle">0.4</text>
<text class="b" x="1671.4" y="1101.3" font-size="36" text-anchor="middle">0.6</text>
<text class="b" x="1803.0" y="1101.3" font-size="36" text-anchor="middle">0.8</text>
<text class="b" x="1934.6" y="1101.3" font-size="36" text-anchor="middle">1.0</text>
<text class="b" transform="translate(1106.4,811) rotate(-90) scale(0.985,1)" font-size="46">N(E<tspan font-size="28" dy="15.6">F</tspan><tspan dy="-15.6">) (States/eV/cell)</tspan></text>
<text class="b" x="1244" y="1163" font-size="37">TiB<tspan font-size="35" dy="15">2</tspan></text>
<text class="b" x="1895" y="1158.5" font-size="37">MoB<tspan font-size="35" dy="15">2</tspan></text>
<text class="b" x="1465" y="1165" font-size="37">Composition (x)</text>
<text x="1603.5" y="1275" font-size="42" text-anchor="middle">(b)</text>
<path d="M1276.6 937.2 C1281.6 926.9 1295.8 896.4 1306.4 875.5 C1317.0 854.6 1328.4 833.7 1340.4 811.7 C1352.5 789.7 1366.6 764.2 1378.7 743.6 C1390.8 723.0 1402.4 703.9 1412.8 688.3 C1423.2 672.7 1431.0 662.4 1440.9 650.0 C1450.8 637.6 1461.4 625.5 1472.3 613.8 C1483.2 602.1 1495.1 590.4 1506.4 579.8 C1517.8 569.2 1529.1 559.6 1540.4 550.0 C1551.8 540.4 1563.6 531.1 1574.5 522.3 C1585.4 513.5 1586.8 512.0 1605.6 497.4 C1624.3 482.8 1659.6 455.2 1687.0 434.5 C1714.4 413.8 1742.6 392.9 1770.1 373.2 C1797.6 353.5 1824.6 335.1 1852.0 316.5 C1879.4 297.9 1920.7 270.6 1934.4 261.4" stroke="#000" stroke-width="3.2" fill="none"/>
<polygon points="1276.6,926.8 1286.6,932.6 1286.6,944.1 1276.6,949.8 1266.6,944.1 1266.6,932.6" fill="#ff0000"/>
<polygon points="1441.1,603.9 1451.1,609.7 1451.1,621.2 1441.1,626.9 1431.1,621.2 1431.1,609.7" fill="#ff0000"/>
<polygon points="1605.6,485.9 1615.6,491.7 1615.6,503.2 1605.6,508.9 1595.6,503.2 1595.6,491.7" fill="#ff0000"/>
<polygon points="1770.1,361.7 1780.1,367.5 1780.1,379.0 1770.1,384.7 1760.1,379.0 1760.1,367.5" fill="#ff0000"/>
<polygon points="1934.6,249.9 1944.6,255.7 1944.6,267.2 1934.6,272.9 1924.6,267.2 1924.6,255.7" fill="#ff0000"/>
</svg></body></html>
